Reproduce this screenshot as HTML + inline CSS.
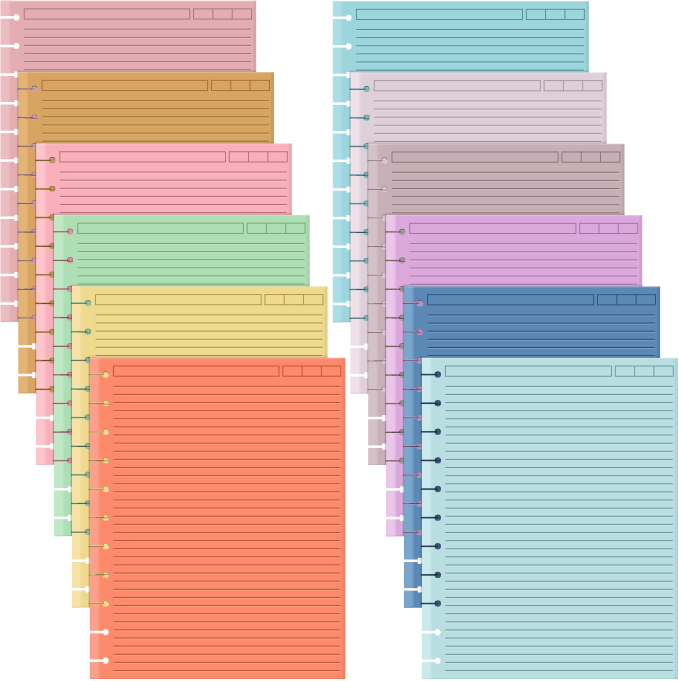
<!DOCTYPE html>
<html><head><meta charset="utf-8"><title>Notebook paper</title>
<style>
html,body{margin:0;padding:0;background:#fff;width:679px;height:681px;overflow:hidden;font-family:"Liberation Sans",sans-serif;}
svg{display:block;}
</style></head><body>
<svg width="679" height="681" viewBox="0 0 679 681">
<defs><linearGradient id="shT" x1="0" y1="0" x2="0" y2="1"><stop offset="0" stop-color="#000" stop-opacity="0"/><stop offset="1" stop-color="#000" stop-opacity="0.16"/></linearGradient><linearGradient id="shL" x1="0" y1="0" x2="1" y2="0"><stop offset="0" stop-color="#000" stop-opacity="0"/><stop offset="1" stop-color="#000" stop-opacity="0.3"/></linearGradient>
<mask id="m0" maskUnits="userSpaceOnUse" x="-1.3" y="-1.3" width="259.5" height="325.2"><rect x="-1.3" y="-1.3" width="259.5" height="325.2" fill="#fff"/><rect x="-0.3" y="16.15" width="16.9" height="2.5" fill="#000"/><path d="M14.4 14.3L16.3 14.3A3.1 3.1 0 0 1 16.3 20.5L14.4 20.5Z" fill="#000"/><rect x="-0.3" y="44.77" width="16.9" height="2.5" fill="#000"/><path d="M14.4 42.92L16.3 42.92A3.1 3.1 0 0 1 16.3 49.12L14.4 49.12Z" fill="#000"/><rect x="-0.3" y="73.39" width="16.9" height="2.5" fill="#000"/><path d="M14.4 71.54L16.3 71.54A3.1 3.1 0 0 1 16.3 77.74L14.4 77.74Z" fill="#000"/><rect x="-0.3" y="102.01" width="16.9" height="2.5" fill="#000"/><path d="M14.4 100.16L16.3 100.16A3.1 3.1 0 0 1 16.3 106.36L14.4 106.36Z" fill="#000"/><rect x="-0.3" y="130.63" width="16.9" height="2.5" fill="#000"/><path d="M14.4 128.78L16.3 128.78A3.1 3.1 0 0 1 16.3 134.98L14.4 134.98Z" fill="#000"/><rect x="-0.3" y="159.25" width="16.9" height="2.5" fill="#000"/><path d="M14.4 157.4L16.3 157.4A3.1 3.1 0 0 1 16.3 163.6L14.4 163.6Z" fill="#000"/><rect x="-0.3" y="187.87" width="16.9" height="2.5" fill="#000"/><path d="M14.4 186.02L16.3 186.02A3.1 3.1 0 0 1 16.3 192.22L14.4 192.22Z" fill="#000"/><rect x="-0.3" y="216.49" width="16.9" height="2.5" fill="#000"/><path d="M14.4 214.64L16.3 214.64A3.1 3.1 0 0 1 16.3 220.84L14.4 220.84Z" fill="#000"/><rect x="-0.3" y="245.11" width="16.9" height="2.5" fill="#000"/><path d="M14.4 243.26L16.3 243.26A3.1 3.1 0 0 1 16.3 249.46L14.4 249.46Z" fill="#000"/><rect x="-0.3" y="273.73" width="16.9" height="2.5" fill="#000"/><path d="M14.4 271.88L16.3 271.88A3.1 3.1 0 0 1 16.3 278.08L14.4 278.08Z" fill="#000"/><rect x="-0.3" y="302.35" width="16.9" height="2.5" fill="#000"/><path d="M14.4 300.5L16.3 300.5A3.1 3.1 0 0 1 16.3 306.7L14.4 306.7Z" fill="#000"/></mask>
<mask id="m1" maskUnits="userSpaceOnUse" x="16.54" y="70.12" width="259.5" height="325.2"><rect x="16.54" y="70.12" width="259.5" height="325.2" fill="#fff"/><rect x="17.54" y="87.97" width="16.9" height="1.7" fill="#000"/><circle cx="34.44" cy="88.82" r="3.2" fill="#000"/><rect x="17.54" y="116.59" width="16.9" height="1.7" fill="#000"/><circle cx="34.44" cy="117.44" r="3.2" fill="#000"/><rect x="17.54" y="145.21" width="16.9" height="1.7" fill="#000"/><circle cx="34.44" cy="146.06" r="3.2" fill="#000"/><rect x="17.54" y="173.83" width="16.9" height="1.7" fill="#000"/><circle cx="34.44" cy="174.68" r="3.2" fill="#000"/><rect x="17.54" y="202.45" width="16.9" height="1.7" fill="#000"/><circle cx="34.44" cy="203.3" r="3.2" fill="#000"/><rect x="17.54" y="231.07" width="16.9" height="1.7" fill="#000"/><circle cx="34.44" cy="231.92" r="3.2" fill="#000"/><rect x="17.54" y="259.69" width="16.9" height="1.7" fill="#000"/><circle cx="34.44" cy="260.54" r="3.2" fill="#000"/><rect x="17.54" y="288.31" width="16.9" height="1.7" fill="#000"/><circle cx="34.44" cy="289.16" r="3.2" fill="#000"/><rect x="17.54" y="316.93" width="16.9" height="1.7" fill="#000"/><circle cx="34.44" cy="317.78" r="3.2" fill="#000"/><rect x="17.54" y="345.15" width="16.9" height="2.5" fill="#000"/><path d="M32.24 343.3L34.14 343.3A3.1 3.1 0 0 1 34.14 349.5L32.24 349.5Z" fill="#000"/><rect x="17.54" y="373.77" width="16.9" height="2.5" fill="#000"/><path d="M32.24 371.92L34.14 371.92A3.1 3.1 0 0 1 34.14 378.12L32.24 378.12Z" fill="#000"/></mask>
<clipPath id="c1"><rect x="0.7" y="0.7" width="255.5" height="321.2"/></clipPath>
<mask id="m2" maskUnits="userSpaceOnUse" x="34.38" y="141.54" width="259.5" height="325.2"><rect x="34.38" y="141.54" width="259.5" height="325.2" fill="#fff"/><rect x="35.38" y="159.39" width="16.9" height="1.7" fill="#000"/><circle cx="52.28" cy="160.24" r="3.2" fill="#000"/><rect x="35.38" y="188.01" width="16.9" height="1.7" fill="#000"/><circle cx="52.28" cy="188.86" r="3.2" fill="#000"/><rect x="35.38" y="216.63" width="16.9" height="1.7" fill="#000"/><circle cx="52.28" cy="217.48" r="3.2" fill="#000"/><rect x="35.38" y="245.25" width="16.9" height="1.7" fill="#000"/><circle cx="52.28" cy="246.1" r="3.2" fill="#000"/><rect x="35.38" y="273.87" width="16.9" height="1.7" fill="#000"/><circle cx="52.28" cy="274.72" r="3.2" fill="#000"/><rect x="35.38" y="302.49" width="16.9" height="1.7" fill="#000"/><circle cx="52.28" cy="303.34" r="3.2" fill="#000"/><rect x="35.38" y="331.11" width="16.9" height="1.7" fill="#000"/><circle cx="52.28" cy="331.96" r="3.2" fill="#000"/><rect x="35.38" y="359.73" width="16.9" height="1.7" fill="#000"/><circle cx="52.28" cy="360.58" r="3.2" fill="#000"/><rect x="35.38" y="388.35" width="16.9" height="1.7" fill="#000"/><circle cx="52.28" cy="389.2" r="3.2" fill="#000"/><rect x="35.38" y="416.57" width="16.9" height="2.5" fill="#000"/><path d="M50.08 414.72L51.98 414.72A3.1 3.1 0 0 1 51.98 420.92L50.08 420.92Z" fill="#000"/><rect x="35.38" y="445.19" width="16.9" height="2.5" fill="#000"/><path d="M50.08 443.34L51.98 443.34A3.1 3.1 0 0 1 51.98 449.54L50.08 449.54Z" fill="#000"/></mask>
<clipPath id="c2"><rect x="18.54" y="72.12" width="255.5" height="321.2"/></clipPath>
<mask id="m3" maskUnits="userSpaceOnUse" x="52.22" y="212.96" width="259.5" height="325.2"><rect x="52.22" y="212.96" width="259.5" height="325.2" fill="#fff"/><rect x="53.22" y="230.81" width="16.9" height="1.7" fill="#000"/><circle cx="70.12" cy="231.66" r="3.2" fill="#000"/><rect x="53.22" y="259.43" width="16.9" height="1.7" fill="#000"/><circle cx="70.12" cy="260.28" r="3.2" fill="#000"/><rect x="53.22" y="288.05" width="16.9" height="1.7" fill="#000"/><circle cx="70.12" cy="288.9" r="3.2" fill="#000"/><rect x="53.22" y="316.67" width="16.9" height="1.7" fill="#000"/><circle cx="70.12" cy="317.52" r="3.2" fill="#000"/><rect x="53.22" y="345.29" width="16.9" height="1.7" fill="#000"/><circle cx="70.12" cy="346.14" r="3.2" fill="#000"/><rect x="53.22" y="373.91" width="16.9" height="1.7" fill="#000"/><circle cx="70.12" cy="374.76" r="3.2" fill="#000"/><rect x="53.22" y="402.53" width="16.9" height="1.7" fill="#000"/><circle cx="70.12" cy="403.38" r="3.2" fill="#000"/><rect x="53.22" y="431.15" width="16.9" height="1.7" fill="#000"/><circle cx="70.12" cy="432" r="3.2" fill="#000"/><rect x="53.22" y="459.77" width="16.9" height="1.7" fill="#000"/><circle cx="70.12" cy="460.62" r="3.2" fill="#000"/><rect x="53.22" y="487.99" width="16.9" height="2.5" fill="#000"/><path d="M67.92 486.14L69.82 486.14A3.1 3.1 0 0 1 69.82 492.34L67.92 492.34Z" fill="#000"/><rect x="53.22" y="516.61" width="16.9" height="2.5" fill="#000"/><path d="M67.92 514.76L69.82 514.76A3.1 3.1 0 0 1 69.82 520.96L67.92 520.96Z" fill="#000"/></mask>
<clipPath id="c3"><rect x="36.38" y="143.54" width="255.5" height="321.2"/></clipPath>
<mask id="m4" maskUnits="userSpaceOnUse" x="70.06" y="284.38" width="259.5" height="325.2"><rect x="70.06" y="284.38" width="259.5" height="325.2" fill="#fff"/><rect x="71.06" y="302.23" width="16.9" height="1.7" fill="#000"/><circle cx="87.96" cy="303.08" r="3.2" fill="#000"/><rect x="71.06" y="330.85" width="16.9" height="1.7" fill="#000"/><circle cx="87.96" cy="331.7" r="3.2" fill="#000"/><rect x="71.06" y="359.47" width="16.9" height="1.7" fill="#000"/><circle cx="87.96" cy="360.32" r="3.2" fill="#000"/><rect x="71.06" y="388.09" width="16.9" height="1.7" fill="#000"/><circle cx="87.96" cy="388.94" r="3.2" fill="#000"/><rect x="71.06" y="416.71" width="16.9" height="1.7" fill="#000"/><circle cx="87.96" cy="417.56" r="3.2" fill="#000"/><rect x="71.06" y="445.33" width="16.9" height="1.7" fill="#000"/><circle cx="87.96" cy="446.18" r="3.2" fill="#000"/><rect x="71.06" y="473.95" width="16.9" height="1.7" fill="#000"/><circle cx="87.96" cy="474.8" r="3.2" fill="#000"/><rect x="71.06" y="502.57" width="16.9" height="1.7" fill="#000"/><circle cx="87.96" cy="503.42" r="3.2" fill="#000"/><rect x="71.06" y="531.19" width="16.9" height="1.7" fill="#000"/><circle cx="87.96" cy="532.04" r="3.2" fill="#000"/><rect x="71.06" y="559.41" width="16.9" height="2.5" fill="#000"/><path d="M85.76 557.56L87.66 557.56A3.1 3.1 0 0 1 87.66 563.76L85.76 563.76Z" fill="#000"/><rect x="71.06" y="588.03" width="16.9" height="2.5" fill="#000"/><path d="M85.76 586.18L87.66 586.18A3.1 3.1 0 0 1 87.66 592.38L85.76 592.38Z" fill="#000"/></mask>
<clipPath id="c4"><rect x="54.22" y="214.96" width="255.5" height="321.2"/></clipPath>
<mask id="m5" maskUnits="userSpaceOnUse" x="87.9" y="355.8" width="259.5" height="325.2"><rect x="87.9" y="355.8" width="259.5" height="325.2" fill="#fff"/><rect x="88.9" y="373.65" width="16.9" height="1.7" fill="#000"/><circle cx="105.8" cy="374.5" r="3.2" fill="#000"/><rect x="88.9" y="402.27" width="16.9" height="1.7" fill="#000"/><circle cx="105.8" cy="403.12" r="3.2" fill="#000"/><rect x="88.9" y="430.89" width="16.9" height="1.7" fill="#000"/><circle cx="105.8" cy="431.74" r="3.2" fill="#000"/><rect x="88.9" y="459.51" width="16.9" height="1.7" fill="#000"/><circle cx="105.8" cy="460.36" r="3.2" fill="#000"/><rect x="88.9" y="488.13" width="16.9" height="1.7" fill="#000"/><circle cx="105.8" cy="488.98" r="3.2" fill="#000"/><rect x="88.9" y="516.75" width="16.9" height="1.7" fill="#000"/><circle cx="105.8" cy="517.6" r="3.2" fill="#000"/><rect x="88.9" y="545.37" width="16.9" height="1.7" fill="#000"/><circle cx="105.8" cy="546.22" r="3.2" fill="#000"/><rect x="88.9" y="573.99" width="16.9" height="1.7" fill="#000"/><circle cx="105.8" cy="574.84" r="3.2" fill="#000"/><rect x="88.9" y="602.61" width="16.9" height="1.7" fill="#000"/><circle cx="105.8" cy="603.46" r="3.2" fill="#000"/><rect x="88.9" y="630.83" width="16.9" height="2.5" fill="#000"/><path d="M103.6 628.98L105.5 628.98A3.1 3.1 0 0 1 105.5 635.18L103.6 635.18Z" fill="#000"/><rect x="88.9" y="659.45" width="16.9" height="2.5" fill="#000"/><path d="M103.6 657.6L105.5 657.6A3.1 3.1 0 0 1 105.5 663.8L103.6 663.8Z" fill="#000"/></mask>
<clipPath id="c5"><rect x="72.06" y="286.38" width="255.5" height="321.2"/></clipPath>
<mask id="m6" maskUnits="userSpaceOnUse" x="330.9" y="-0.94" width="260" height="325.2"><rect x="330.9" y="-0.94" width="260" height="325.2" fill="#fff"/><rect x="331.9" y="16.51" width="16.9" height="2.5" fill="#000"/><path d="M346.6 14.66L348.5 14.66A3.1 3.1 0 0 1 348.5 20.86L346.6 20.86Z" fill="#000"/><rect x="331.9" y="45.13" width="16.9" height="2.5" fill="#000"/><path d="M346.6 43.28L348.5 43.28A3.1 3.1 0 0 1 348.5 49.48L346.6 49.48Z" fill="#000"/><rect x="331.9" y="73.75" width="16.9" height="2.5" fill="#000"/><path d="M346.6 71.9L348.5 71.9A3.1 3.1 0 0 1 348.5 78.1L346.6 78.1Z" fill="#000"/><rect x="331.9" y="102.37" width="16.9" height="2.5" fill="#000"/><path d="M346.6 100.52L348.5 100.52A3.1 3.1 0 0 1 348.5 106.72L346.6 106.72Z" fill="#000"/><rect x="331.9" y="130.99" width="16.9" height="2.5" fill="#000"/><path d="M346.6 129.14L348.5 129.14A3.1 3.1 0 0 1 348.5 135.34L346.6 135.34Z" fill="#000"/><rect x="331.9" y="159.61" width="16.9" height="2.5" fill="#000"/><path d="M346.6 157.76L348.5 157.76A3.1 3.1 0 0 1 348.5 163.96L346.6 163.96Z" fill="#000"/><rect x="331.9" y="188.23" width="16.9" height="2.5" fill="#000"/><path d="M346.6 186.38L348.5 186.38A3.1 3.1 0 0 1 348.5 192.58L346.6 192.58Z" fill="#000"/><rect x="331.9" y="216.85" width="16.9" height="2.5" fill="#000"/><path d="M346.6 215L348.5 215A3.1 3.1 0 0 1 348.5 221.2L346.6 221.2Z" fill="#000"/><rect x="331.9" y="245.47" width="16.9" height="2.5" fill="#000"/><path d="M346.6 243.62L348.5 243.62A3.1 3.1 0 0 1 348.5 249.82L346.6 249.82Z" fill="#000"/><rect x="331.9" y="274.09" width="16.9" height="2.5" fill="#000"/><path d="M346.6 272.24L348.5 272.24A3.1 3.1 0 0 1 348.5 278.44L346.6 278.44Z" fill="#000"/><rect x="331.9" y="302.71" width="16.9" height="2.5" fill="#000"/><path d="M346.6 300.86L348.5 300.86A3.1 3.1 0 0 1 348.5 307.06L346.6 307.06Z" fill="#000"/></mask>
<mask id="m7" maskUnits="userSpaceOnUse" x="348.7" y="70.42" width="260" height="325.2"><rect x="348.7" y="70.42" width="260" height="325.2" fill="#fff"/><rect x="349.7" y="88.27" width="16.9" height="1.7" fill="#000"/><circle cx="366.6" cy="89.12" r="3.2" fill="#000"/><rect x="349.7" y="116.89" width="16.9" height="1.7" fill="#000"/><circle cx="366.6" cy="117.74" r="3.2" fill="#000"/><rect x="349.7" y="145.51" width="16.9" height="1.7" fill="#000"/><circle cx="366.6" cy="146.36" r="3.2" fill="#000"/><rect x="349.7" y="174.13" width="16.9" height="1.7" fill="#000"/><circle cx="366.6" cy="174.98" r="3.2" fill="#000"/><rect x="349.7" y="202.75" width="16.9" height="1.7" fill="#000"/><circle cx="366.6" cy="203.6" r="3.2" fill="#000"/><rect x="349.7" y="231.37" width="16.9" height="1.7" fill="#000"/><circle cx="366.6" cy="232.22" r="3.2" fill="#000"/><rect x="349.7" y="259.99" width="16.9" height="1.7" fill="#000"/><circle cx="366.6" cy="260.84" r="3.2" fill="#000"/><rect x="349.7" y="288.61" width="16.9" height="1.7" fill="#000"/><circle cx="366.6" cy="289.46" r="3.2" fill="#000"/><rect x="349.7" y="317.23" width="16.9" height="1.7" fill="#000"/><circle cx="366.6" cy="318.08" r="3.2" fill="#000"/><rect x="349.7" y="345.45" width="16.9" height="2.5" fill="#000"/><path d="M364.4 343.6L366.3 343.6A3.1 3.1 0 0 1 366.3 349.8L364.4 349.8Z" fill="#000"/><rect x="349.7" y="374.07" width="16.9" height="2.5" fill="#000"/><path d="M364.4 372.22L366.3 372.22A3.1 3.1 0 0 1 366.3 378.42L364.4 378.42Z" fill="#000"/></mask>
<clipPath id="c7"><rect x="332.9" y="1.06" width="256" height="321.2"/></clipPath>
<mask id="m8" maskUnits="userSpaceOnUse" x="366.5" y="141.78" width="260" height="325.2"><rect x="366.5" y="141.78" width="260" height="325.2" fill="#fff"/><rect x="367.5" y="159.63" width="16.9" height="1.7" fill="#000"/><circle cx="384.4" cy="160.48" r="3.2" fill="#000"/><rect x="367.5" y="188.25" width="16.9" height="1.7" fill="#000"/><circle cx="384.4" cy="189.1" r="3.2" fill="#000"/><rect x="367.5" y="216.87" width="16.9" height="1.7" fill="#000"/><circle cx="384.4" cy="217.72" r="3.2" fill="#000"/><rect x="367.5" y="245.49" width="16.9" height="1.7" fill="#000"/><circle cx="384.4" cy="246.34" r="3.2" fill="#000"/><rect x="367.5" y="274.11" width="16.9" height="1.7" fill="#000"/><circle cx="384.4" cy="274.96" r="3.2" fill="#000"/><rect x="367.5" y="302.73" width="16.9" height="1.7" fill="#000"/><circle cx="384.4" cy="303.58" r="3.2" fill="#000"/><rect x="367.5" y="331.35" width="16.9" height="1.7" fill="#000"/><circle cx="384.4" cy="332.2" r="3.2" fill="#000"/><rect x="367.5" y="359.97" width="16.9" height="1.7" fill="#000"/><circle cx="384.4" cy="360.82" r="3.2" fill="#000"/><rect x="367.5" y="388.59" width="16.9" height="1.7" fill="#000"/><circle cx="384.4" cy="389.44" r="3.2" fill="#000"/><rect x="367.5" y="416.81" width="16.9" height="2.5" fill="#000"/><path d="M382.2 414.96L384.1 414.96A3.1 3.1 0 0 1 384.1 421.16L382.2 421.16Z" fill="#000"/><rect x="367.5" y="445.43" width="16.9" height="2.5" fill="#000"/><path d="M382.2 443.58L384.1 443.58A3.1 3.1 0 0 1 384.1 449.78L382.2 449.78Z" fill="#000"/></mask>
<clipPath id="c8"><rect x="350.7" y="72.42" width="256" height="321.2"/></clipPath>
<mask id="m9" maskUnits="userSpaceOnUse" x="384.3" y="213.14" width="260" height="325.2"><rect x="384.3" y="213.14" width="260" height="325.2" fill="#fff"/><rect x="385.3" y="230.99" width="16.9" height="1.7" fill="#000"/><circle cx="402.2" cy="231.84" r="3.2" fill="#000"/><rect x="385.3" y="259.61" width="16.9" height="1.7" fill="#000"/><circle cx="402.2" cy="260.46" r="3.2" fill="#000"/><rect x="385.3" y="288.23" width="16.9" height="1.7" fill="#000"/><circle cx="402.2" cy="289.08" r="3.2" fill="#000"/><rect x="385.3" y="316.85" width="16.9" height="1.7" fill="#000"/><circle cx="402.2" cy="317.7" r="3.2" fill="#000"/><rect x="385.3" y="345.47" width="16.9" height="1.7" fill="#000"/><circle cx="402.2" cy="346.32" r="3.2" fill="#000"/><rect x="385.3" y="374.09" width="16.9" height="1.7" fill="#000"/><circle cx="402.2" cy="374.94" r="3.2" fill="#000"/><rect x="385.3" y="402.71" width="16.9" height="1.7" fill="#000"/><circle cx="402.2" cy="403.56" r="3.2" fill="#000"/><rect x="385.3" y="431.33" width="16.9" height="1.7" fill="#000"/><circle cx="402.2" cy="432.18" r="3.2" fill="#000"/><rect x="385.3" y="459.95" width="16.9" height="1.7" fill="#000"/><circle cx="402.2" cy="460.8" r="3.2" fill="#000"/><rect x="385.3" y="488.17" width="16.9" height="2.5" fill="#000"/><path d="M400 486.32L401.9 486.32A3.1 3.1 0 0 1 401.9 492.52L400 492.52Z" fill="#000"/><rect x="385.3" y="516.79" width="16.9" height="2.5" fill="#000"/><path d="M400 514.94L401.9 514.94A3.1 3.1 0 0 1 401.9 521.14L400 521.14Z" fill="#000"/></mask>
<clipPath id="c9"><rect x="368.5" y="143.78" width="256" height="321.2"/></clipPath>
<mask id="m10" maskUnits="userSpaceOnUse" x="402.1" y="284.5" width="260" height="325.2"><rect x="402.1" y="284.5" width="260" height="325.2" fill="#fff"/><rect x="403.1" y="302.35" width="16.9" height="1.7" fill="#000"/><circle cx="420" cy="303.2" r="3.2" fill="#000"/><rect x="403.1" y="330.97" width="16.9" height="1.7" fill="#000"/><circle cx="420" cy="331.82" r="3.2" fill="#000"/><rect x="403.1" y="359.59" width="16.9" height="1.7" fill="#000"/><circle cx="420" cy="360.44" r="3.2" fill="#000"/><rect x="403.1" y="388.21" width="16.9" height="1.7" fill="#000"/><circle cx="420" cy="389.06" r="3.2" fill="#000"/><rect x="403.1" y="416.83" width="16.9" height="1.7" fill="#000"/><circle cx="420" cy="417.68" r="3.2" fill="#000"/><rect x="403.1" y="445.45" width="16.9" height="1.7" fill="#000"/><circle cx="420" cy="446.3" r="3.2" fill="#000"/><rect x="403.1" y="474.07" width="16.9" height="1.7" fill="#000"/><circle cx="420" cy="474.92" r="3.2" fill="#000"/><rect x="403.1" y="502.69" width="16.9" height="1.7" fill="#000"/><circle cx="420" cy="503.54" r="3.2" fill="#000"/><rect x="403.1" y="531.31" width="16.9" height="1.7" fill="#000"/><circle cx="420" cy="532.16" r="3.2" fill="#000"/><rect x="403.1" y="559.53" width="16.9" height="2.5" fill="#000"/><path d="M417.8 557.68L419.7 557.68A3.1 3.1 0 0 1 419.7 563.88L417.8 563.88Z" fill="#000"/><rect x="403.1" y="588.15" width="16.9" height="2.5" fill="#000"/><path d="M417.8 586.3L419.7 586.3A3.1 3.1 0 0 1 419.7 592.5L417.8 592.5Z" fill="#000"/></mask>
<clipPath id="c10"><rect x="386.3" y="215.14" width="256" height="321.2"/></clipPath>
<mask id="m11" maskUnits="userSpaceOnUse" x="419.9" y="355.86" width="260" height="325.2"><rect x="419.9" y="355.86" width="260" height="325.2" fill="#fff"/><rect x="420.9" y="373.71" width="16.9" height="1.7" fill="#000"/><circle cx="437.8" cy="374.56" r="3.2" fill="#000"/><rect x="420.9" y="402.33" width="16.9" height="1.7" fill="#000"/><circle cx="437.8" cy="403.18" r="3.2" fill="#000"/><rect x="420.9" y="430.95" width="16.9" height="1.7" fill="#000"/><circle cx="437.8" cy="431.8" r="3.2" fill="#000"/><rect x="420.9" y="459.57" width="16.9" height="1.7" fill="#000"/><circle cx="437.8" cy="460.42" r="3.2" fill="#000"/><rect x="420.9" y="488.19" width="16.9" height="1.7" fill="#000"/><circle cx="437.8" cy="489.04" r="3.2" fill="#000"/><rect x="420.9" y="516.81" width="16.9" height="1.7" fill="#000"/><circle cx="437.8" cy="517.66" r="3.2" fill="#000"/><rect x="420.9" y="545.43" width="16.9" height="1.7" fill="#000"/><circle cx="437.8" cy="546.28" r="3.2" fill="#000"/><rect x="420.9" y="574.05" width="16.9" height="1.7" fill="#000"/><circle cx="437.8" cy="574.9" r="3.2" fill="#000"/><rect x="420.9" y="602.67" width="16.9" height="1.7" fill="#000"/><circle cx="437.8" cy="603.52" r="3.2" fill="#000"/><rect x="420.9" y="630.89" width="16.9" height="2.5" fill="#000"/><path d="M435.6 629.04L437.5 629.04A3.1 3.1 0 0 1 437.5 635.24L435.6 635.24Z" fill="#000"/><rect x="420.9" y="659.51" width="16.9" height="2.5" fill="#000"/><path d="M435.6 657.66L437.5 657.66A3.1 3.1 0 0 1 437.5 663.86L435.6 663.86Z" fill="#000"/></mask>
<clipPath id="c11"><rect x="404.1" y="286.5" width="256" height="321.2"/></clipPath></defs>
<g mask="url(#m0)"><rect x="0.7" y="0.7" width="255.5" height="321.2" fill="#E4ADB2"/><rect x="0.7" y="0.7" width="8.4" height="321.2" fill="#EBBCC0"/><rect x="9.1" y="0.7" width="1.6" height="321.2" fill="#EBBCC0" opacity="0.5"/><rect x="0.7" y="0.7" width="255.5" height="1" fill="#fff" opacity="0.22"/><rect x="253.2" y="0.7" width="3" height="321.2" fill="#000" opacity="0.05"/><rect x="0.7" y="320.9" width="255.5" height="1" fill="#000" opacity="0.06"/><rect x="24.2" y="8.9" width="165.6" height="10.2" fill="none" stroke="#A6717A" stroke-width="0.9"/><rect x="193.6" y="8.9" width="58" height="10.2" fill="none" stroke="#A6717A" stroke-width="0.9"/><rect x="212.45" y="8.9" width="0.9" height="10.2" fill="#A6717A"/><rect x="231.75" y="8.9" width="0.9" height="10.2" fill="#A6717A"/><rect x="24.2" y="28.7" width="226.9" height="1" fill="#A6717A"/><rect x="24.2" y="29.7" width="226.9" height="1" fill="#fff" opacity="0.18"/><rect x="24.2" y="36.82" width="226.9" height="1" fill="#A6717A"/><rect x="24.2" y="37.82" width="226.9" height="1" fill="#fff" opacity="0.18"/><rect x="24.2" y="44.94" width="226.9" height="1" fill="#A6717A"/><rect x="24.2" y="45.94" width="226.9" height="1" fill="#fff" opacity="0.18"/><rect x="24.2" y="53.06" width="226.9" height="1" fill="#A6717A"/><rect x="24.2" y="54.06" width="226.9" height="1" fill="#fff" opacity="0.18"/><rect x="24.2" y="61.18" width="226.9" height="1" fill="#A6717A"/><rect x="24.2" y="62.18" width="226.9" height="1" fill="#fff" opacity="0.18"/><rect x="24.2" y="69.3" width="226.9" height="1" fill="#A6717A"/><rect x="24.2" y="70.3" width="226.9" height="1" fill="#fff" opacity="0.18"/><rect x="24.2" y="77.42" width="226.9" height="1" fill="#A6717A"/><rect x="24.2" y="78.42" width="226.9" height="1" fill="#fff" opacity="0.18"/><rect x="24.2" y="85.54" width="226.9" height="1" fill="#A6717A"/><rect x="24.2" y="86.54" width="226.9" height="1" fill="#fff" opacity="0.18"/><rect x="24.2" y="93.66" width="226.9" height="1" fill="#A6717A"/><rect x="24.2" y="94.66" width="226.9" height="1" fill="#fff" opacity="0.18"/><rect x="24.2" y="101.78" width="226.9" height="1" fill="#A6717A"/><rect x="24.2" y="102.78" width="226.9" height="1" fill="#fff" opacity="0.18"/><rect x="24.2" y="109.9" width="226.9" height="1" fill="#A6717A"/><rect x="24.2" y="110.9" width="226.9" height="1" fill="#fff" opacity="0.18"/><rect x="24.2" y="118.02" width="226.9" height="1" fill="#A6717A"/><rect x="24.2" y="119.02" width="226.9" height="1" fill="#fff" opacity="0.18"/><rect x="24.2" y="126.14" width="226.9" height="1" fill="#A6717A"/><rect x="24.2" y="127.14" width="226.9" height="1" fill="#fff" opacity="0.18"/><rect x="24.2" y="134.26" width="226.9" height="1" fill="#A6717A"/><rect x="24.2" y="135.26" width="226.9" height="1" fill="#fff" opacity="0.18"/><rect x="24.2" y="142.38" width="226.9" height="1" fill="#A6717A"/><rect x="24.2" y="143.38" width="226.9" height="1" fill="#fff" opacity="0.18"/><rect x="24.2" y="150.5" width="226.9" height="1" fill="#A6717A"/><rect x="24.2" y="151.5" width="226.9" height="1" fill="#fff" opacity="0.18"/><rect x="24.2" y="158.62" width="226.9" height="1" fill="#A6717A"/><rect x="24.2" y="159.62" width="226.9" height="1" fill="#fff" opacity="0.18"/><rect x="24.2" y="166.74" width="226.9" height="1" fill="#A6717A"/><rect x="24.2" y="167.74" width="226.9" height="1" fill="#fff" opacity="0.18"/><rect x="24.2" y="174.86" width="226.9" height="1" fill="#A6717A"/><rect x="24.2" y="175.86" width="226.9" height="1" fill="#fff" opacity="0.18"/><rect x="24.2" y="182.98" width="226.9" height="1" fill="#A6717A"/><rect x="24.2" y="183.98" width="226.9" height="1" fill="#fff" opacity="0.18"/><rect x="24.2" y="191.1" width="226.9" height="1" fill="#A6717A"/><rect x="24.2" y="192.1" width="226.9" height="1" fill="#fff" opacity="0.18"/><rect x="24.2" y="199.22" width="226.9" height="1" fill="#A6717A"/><rect x="24.2" y="200.22" width="226.9" height="1" fill="#fff" opacity="0.18"/><rect x="24.2" y="207.34" width="226.9" height="1" fill="#A6717A"/><rect x="24.2" y="208.34" width="226.9" height="1" fill="#fff" opacity="0.18"/><rect x="24.2" y="215.46" width="226.9" height="1" fill="#A6717A"/><rect x="24.2" y="216.46" width="226.9" height="1" fill="#fff" opacity="0.18"/><rect x="24.2" y="223.58" width="226.9" height="1" fill="#A6717A"/><rect x="24.2" y="224.58" width="226.9" height="1" fill="#fff" opacity="0.18"/><rect x="24.2" y="231.7" width="226.9" height="1" fill="#A6717A"/><rect x="24.2" y="232.7" width="226.9" height="1" fill="#fff" opacity="0.18"/><rect x="24.2" y="239.82" width="226.9" height="1" fill="#A6717A"/><rect x="24.2" y="240.82" width="226.9" height="1" fill="#fff" opacity="0.18"/><rect x="24.2" y="247.94" width="226.9" height="1" fill="#A6717A"/><rect x="24.2" y="248.94" width="226.9" height="1" fill="#fff" opacity="0.18"/><rect x="24.2" y="256.06" width="226.9" height="1" fill="#A6717A"/><rect x="24.2" y="257.06" width="226.9" height="1" fill="#fff" opacity="0.18"/><rect x="24.2" y="264.18" width="226.9" height="1" fill="#A6717A"/><rect x="24.2" y="265.18" width="226.9" height="1" fill="#fff" opacity="0.18"/><rect x="24.2" y="272.3" width="226.9" height="1" fill="#A6717A"/><rect x="24.2" y="273.3" width="226.9" height="1" fill="#fff" opacity="0.18"/><rect x="24.2" y="280.42" width="226.9" height="1" fill="#A6717A"/><rect x="24.2" y="281.42" width="226.9" height="1" fill="#fff" opacity="0.18"/><rect x="24.2" y="288.54" width="226.9" height="1" fill="#A6717A"/><rect x="24.2" y="289.54" width="226.9" height="1" fill="#fff" opacity="0.18"/><rect x="24.2" y="296.66" width="226.9" height="1" fill="#A6717A"/><rect x="24.2" y="297.66" width="226.9" height="1" fill="#fff" opacity="0.18"/><rect x="24.2" y="304.78" width="226.9" height="1" fill="#A6717A"/><rect x="24.2" y="305.78" width="226.9" height="1" fill="#fff" opacity="0.18"/><rect x="24.2" y="312.9" width="226.9" height="1" fill="#A6717A"/><rect x="24.2" y="313.9" width="226.9" height="1" fill="#fff" opacity="0.18"/></g>
<g clip-path="url(#c1)">
<rect x="17.04" y="69.12" width="255.5" height="3" fill="url(#shT)"/>
<rect x="16.54" y="72.12" width="2" height="321.2" fill="url(#shL)"/>
<rect x="17.54" y="87.97" width="16.9" height="1.7" fill="rgba(20,25,40,0.1)"/><circle cx="34.44" cy="88.82" r="3.2" fill="rgba(20,25,40,0.1)"/><rect x="17.54" y="116.59" width="16.9" height="1.7" fill="rgba(20,25,40,0.1)"/><circle cx="34.44" cy="117.44" r="3.2" fill="rgba(20,25,40,0.1)"/><rect x="17.54" y="145.21" width="16.9" height="1.7" fill="rgba(20,25,40,0.1)"/><circle cx="34.44" cy="146.06" r="3.2" fill="rgba(20,25,40,0.1)"/><rect x="17.54" y="173.83" width="16.9" height="1.7" fill="rgba(20,25,40,0.1)"/><circle cx="34.44" cy="174.68" r="3.2" fill="rgba(20,25,40,0.1)"/><rect x="17.54" y="202.45" width="16.9" height="1.7" fill="rgba(20,25,40,0.1)"/><circle cx="34.44" cy="203.3" r="3.2" fill="rgba(20,25,40,0.1)"/><rect x="17.54" y="231.07" width="16.9" height="1.7" fill="rgba(20,25,40,0.1)"/><circle cx="34.44" cy="231.92" r="3.2" fill="rgba(20,25,40,0.1)"/><rect x="17.54" y="259.69" width="16.9" height="1.7" fill="rgba(20,25,40,0.1)"/><circle cx="34.44" cy="260.54" r="3.2" fill="rgba(20,25,40,0.1)"/><rect x="17.54" y="288.31" width="16.9" height="1.7" fill="rgba(20,25,40,0.1)"/><circle cx="34.44" cy="289.16" r="3.2" fill="rgba(20,25,40,0.1)"/><rect x="17.54" y="316.93" width="16.9" height="1.7" fill="rgba(20,25,40,0.1)"/><circle cx="34.44" cy="317.78" r="3.2" fill="rgba(20,25,40,0.1)"/>
<rect x="17.54" y="88.62" width="14.9" height="0.9" fill="rgba(30,15,10,0.45)"/>
<path d="M31.74 88.42 a2.7 2.7 0 0 1 5.4 0" fill="none" stroke="rgba(30,15,10,0.35)" stroke-width="0.9"/>
<rect x="17.54" y="117.24" width="14.9" height="0.9" fill="rgba(30,15,10,0.45)"/>
<path d="M31.74 117.04 a2.7 2.7 0 0 1 5.4 0" fill="none" stroke="rgba(30,15,10,0.35)" stroke-width="0.9"/>
<rect x="17.54" y="145.86" width="14.9" height="0.9" fill="rgba(30,15,10,0.45)"/>
<path d="M31.74 145.66 a2.7 2.7 0 0 1 5.4 0" fill="none" stroke="rgba(30,15,10,0.35)" stroke-width="0.9"/>
<rect x="17.54" y="174.48" width="14.9" height="0.9" fill="rgba(30,15,10,0.45)"/>
<path d="M31.74 174.28 a2.7 2.7 0 0 1 5.4 0" fill="none" stroke="rgba(30,15,10,0.35)" stroke-width="0.9"/>
<rect x="17.54" y="203.1" width="14.9" height="0.9" fill="rgba(30,15,10,0.45)"/>
<path d="M31.74 202.9 a2.7 2.7 0 0 1 5.4 0" fill="none" stroke="rgba(30,15,10,0.35)" stroke-width="0.9"/>
<rect x="17.54" y="231.72" width="14.9" height="0.9" fill="rgba(30,15,10,0.45)"/>
<path d="M31.74 231.52 a2.7 2.7 0 0 1 5.4 0" fill="none" stroke="rgba(30,15,10,0.35)" stroke-width="0.9"/>
<rect x="17.54" y="260.34" width="14.9" height="0.9" fill="rgba(30,15,10,0.45)"/>
<path d="M31.74 260.14 a2.7 2.7 0 0 1 5.4 0" fill="none" stroke="rgba(30,15,10,0.35)" stroke-width="0.9"/>
<rect x="17.54" y="288.96" width="14.9" height="0.9" fill="rgba(30,15,10,0.45)"/>
<path d="M31.74 288.76 a2.7 2.7 0 0 1 5.4 0" fill="none" stroke="rgba(30,15,10,0.35)" stroke-width="0.9"/>
<rect x="17.54" y="317.58" width="14.9" height="0.9" fill="rgba(30,15,10,0.45)"/>
<path d="M31.74 317.38 a2.7 2.7 0 0 1 5.4 0" fill="none" stroke="rgba(30,15,10,0.35)" stroke-width="0.9"/>
</g>
<g mask="url(#m1)"><rect x="18.54" y="72.12" width="255.5" height="321.2" fill="#D7A461"/><rect x="18.54" y="72.12" width="8.4" height="321.2" fill="#E2B476"/><rect x="26.94" y="72.12" width="1.6" height="321.2" fill="#E2B476" opacity="0.5"/><rect x="18.54" y="72.12" width="255.5" height="1" fill="#fff" opacity="0.22"/><rect x="271.04" y="72.12" width="3" height="321.2" fill="#000" opacity="0.05"/><rect x="18.54" y="392.32" width="255.5" height="1" fill="#000" opacity="0.06"/><rect x="42.04" y="80.32" width="165.6" height="10.2" fill="none" stroke="#9E7038" stroke-width="0.9"/><rect x="211.44" y="80.32" width="58" height="10.2" fill="none" stroke="#9E7038" stroke-width="0.9"/><rect x="230.29" y="80.32" width="0.9" height="10.2" fill="#9E7038"/><rect x="249.59" y="80.32" width="0.9" height="10.2" fill="#9E7038"/><rect x="42.04" y="100.12" width="226.9" height="1" fill="#9E7038"/><rect x="42.04" y="101.12" width="226.9" height="1" fill="#fff" opacity="0.18"/><rect x="42.04" y="108.24" width="226.9" height="1" fill="#9E7038"/><rect x="42.04" y="109.24" width="226.9" height="1" fill="#fff" opacity="0.18"/><rect x="42.04" y="116.36" width="226.9" height="1" fill="#9E7038"/><rect x="42.04" y="117.36" width="226.9" height="1" fill="#fff" opacity="0.18"/><rect x="42.04" y="124.48" width="226.9" height="1" fill="#9E7038"/><rect x="42.04" y="125.48" width="226.9" height="1" fill="#fff" opacity="0.18"/><rect x="42.04" y="132.6" width="226.9" height="1" fill="#9E7038"/><rect x="42.04" y="133.6" width="226.9" height="1" fill="#fff" opacity="0.18"/><rect x="42.04" y="140.72" width="226.9" height="1" fill="#9E7038"/><rect x="42.04" y="141.72" width="226.9" height="1" fill="#fff" opacity="0.18"/><rect x="42.04" y="148.84" width="226.9" height="1" fill="#9E7038"/><rect x="42.04" y="149.84" width="226.9" height="1" fill="#fff" opacity="0.18"/><rect x="42.04" y="156.96" width="226.9" height="1" fill="#9E7038"/><rect x="42.04" y="157.96" width="226.9" height="1" fill="#fff" opacity="0.18"/><rect x="42.04" y="165.08" width="226.9" height="1" fill="#9E7038"/><rect x="42.04" y="166.08" width="226.9" height="1" fill="#fff" opacity="0.18"/><rect x="42.04" y="173.2" width="226.9" height="1" fill="#9E7038"/><rect x="42.04" y="174.2" width="226.9" height="1" fill="#fff" opacity="0.18"/><rect x="42.04" y="181.32" width="226.9" height="1" fill="#9E7038"/><rect x="42.04" y="182.32" width="226.9" height="1" fill="#fff" opacity="0.18"/><rect x="42.04" y="189.44" width="226.9" height="1" fill="#9E7038"/><rect x="42.04" y="190.44" width="226.9" height="1" fill="#fff" opacity="0.18"/><rect x="42.04" y="197.56" width="226.9" height="1" fill="#9E7038"/><rect x="42.04" y="198.56" width="226.9" height="1" fill="#fff" opacity="0.18"/><rect x="42.04" y="205.68" width="226.9" height="1" fill="#9E7038"/><rect x="42.04" y="206.68" width="226.9" height="1" fill="#fff" opacity="0.18"/><rect x="42.04" y="213.8" width="226.9" height="1" fill="#9E7038"/><rect x="42.04" y="214.8" width="226.9" height="1" fill="#fff" opacity="0.18"/><rect x="42.04" y="221.92" width="226.9" height="1" fill="#9E7038"/><rect x="42.04" y="222.92" width="226.9" height="1" fill="#fff" opacity="0.18"/><rect x="42.04" y="230.04" width="226.9" height="1" fill="#9E7038"/><rect x="42.04" y="231.04" width="226.9" height="1" fill="#fff" opacity="0.18"/><rect x="42.04" y="238.16" width="226.9" height="1" fill="#9E7038"/><rect x="42.04" y="239.16" width="226.9" height="1" fill="#fff" opacity="0.18"/><rect x="42.04" y="246.28" width="226.9" height="1" fill="#9E7038"/><rect x="42.04" y="247.28" width="226.9" height="1" fill="#fff" opacity="0.18"/><rect x="42.04" y="254.4" width="226.9" height="1" fill="#9E7038"/><rect x="42.04" y="255.4" width="226.9" height="1" fill="#fff" opacity="0.18"/><rect x="42.04" y="262.52" width="226.9" height="1" fill="#9E7038"/><rect x="42.04" y="263.52" width="226.9" height="1" fill="#fff" opacity="0.18"/><rect x="42.04" y="270.64" width="226.9" height="1" fill="#9E7038"/><rect x="42.04" y="271.64" width="226.9" height="1" fill="#fff" opacity="0.18"/><rect x="42.04" y="278.76" width="226.9" height="1" fill="#9E7038"/><rect x="42.04" y="279.76" width="226.9" height="1" fill="#fff" opacity="0.18"/><rect x="42.04" y="286.88" width="226.9" height="1" fill="#9E7038"/><rect x="42.04" y="287.88" width="226.9" height="1" fill="#fff" opacity="0.18"/><rect x="42.04" y="295" width="226.9" height="1" fill="#9E7038"/><rect x="42.04" y="296" width="226.9" height="1" fill="#fff" opacity="0.18"/><rect x="42.04" y="303.12" width="226.9" height="1" fill="#9E7038"/><rect x="42.04" y="304.12" width="226.9" height="1" fill="#fff" opacity="0.18"/><rect x="42.04" y="311.24" width="226.9" height="1" fill="#9E7038"/><rect x="42.04" y="312.24" width="226.9" height="1" fill="#fff" opacity="0.18"/><rect x="42.04" y="319.36" width="226.9" height="1" fill="#9E7038"/><rect x="42.04" y="320.36" width="226.9" height="1" fill="#fff" opacity="0.18"/><rect x="42.04" y="327.48" width="226.9" height="1" fill="#9E7038"/><rect x="42.04" y="328.48" width="226.9" height="1" fill="#fff" opacity="0.18"/><rect x="42.04" y="335.6" width="226.9" height="1" fill="#9E7038"/><rect x="42.04" y="336.6" width="226.9" height="1" fill="#fff" opacity="0.18"/><rect x="42.04" y="343.72" width="226.9" height="1" fill="#9E7038"/><rect x="42.04" y="344.72" width="226.9" height="1" fill="#fff" opacity="0.18"/><rect x="42.04" y="351.84" width="226.9" height="1" fill="#9E7038"/><rect x="42.04" y="352.84" width="226.9" height="1" fill="#fff" opacity="0.18"/><rect x="42.04" y="359.96" width="226.9" height="1" fill="#9E7038"/><rect x="42.04" y="360.96" width="226.9" height="1" fill="#fff" opacity="0.18"/><rect x="42.04" y="368.08" width="226.9" height="1" fill="#9E7038"/><rect x="42.04" y="369.08" width="226.9" height="1" fill="#fff" opacity="0.18"/><rect x="42.04" y="376.2" width="226.9" height="1" fill="#9E7038"/><rect x="42.04" y="377.2" width="226.9" height="1" fill="#fff" opacity="0.18"/><rect x="42.04" y="384.32" width="226.9" height="1" fill="#9E7038"/><rect x="42.04" y="385.32" width="226.9" height="1" fill="#fff" opacity="0.18"/></g>
<g clip-path="url(#c2)">
<rect x="34.88" y="140.54" width="255.5" height="3" fill="url(#shT)"/>
<rect x="34.38" y="143.54" width="2" height="321.2" fill="url(#shL)"/>
<rect x="35.38" y="159.39" width="16.9" height="1.7" fill="rgba(20,25,40,0.1)"/><circle cx="52.28" cy="160.24" r="3.2" fill="rgba(20,25,40,0.1)"/><rect x="35.38" y="188.01" width="16.9" height="1.7" fill="rgba(20,25,40,0.1)"/><circle cx="52.28" cy="188.86" r="3.2" fill="rgba(20,25,40,0.1)"/><rect x="35.38" y="216.63" width="16.9" height="1.7" fill="rgba(20,25,40,0.1)"/><circle cx="52.28" cy="217.48" r="3.2" fill="rgba(20,25,40,0.1)"/><rect x="35.38" y="245.25" width="16.9" height="1.7" fill="rgba(20,25,40,0.1)"/><circle cx="52.28" cy="246.1" r="3.2" fill="rgba(20,25,40,0.1)"/><rect x="35.38" y="273.87" width="16.9" height="1.7" fill="rgba(20,25,40,0.1)"/><circle cx="52.28" cy="274.72" r="3.2" fill="rgba(20,25,40,0.1)"/><rect x="35.38" y="302.49" width="16.9" height="1.7" fill="rgba(20,25,40,0.1)"/><circle cx="52.28" cy="303.34" r="3.2" fill="rgba(20,25,40,0.1)"/><rect x="35.38" y="331.11" width="16.9" height="1.7" fill="rgba(20,25,40,0.1)"/><circle cx="52.28" cy="331.96" r="3.2" fill="rgba(20,25,40,0.1)"/><rect x="35.38" y="359.73" width="16.9" height="1.7" fill="rgba(20,25,40,0.1)"/><circle cx="52.28" cy="360.58" r="3.2" fill="rgba(20,25,40,0.1)"/><rect x="35.38" y="388.35" width="16.9" height="1.7" fill="rgba(20,25,40,0.1)"/><circle cx="52.28" cy="389.2" r="3.2" fill="rgba(20,25,40,0.1)"/>
<rect x="35.38" y="160.04" width="14.9" height="0.9" fill="rgba(30,15,10,0.45)"/>
<path d="M49.58 159.84 a2.7 2.7 0 0 1 5.4 0" fill="none" stroke="rgba(30,15,10,0.35)" stroke-width="0.9"/>
<rect x="35.38" y="188.66" width="14.9" height="0.9" fill="rgba(30,15,10,0.45)"/>
<path d="M49.58 188.46 a2.7 2.7 0 0 1 5.4 0" fill="none" stroke="rgba(30,15,10,0.35)" stroke-width="0.9"/>
<rect x="35.38" y="217.28" width="14.9" height="0.9" fill="rgba(30,15,10,0.45)"/>
<path d="M49.58 217.08 a2.7 2.7 0 0 1 5.4 0" fill="none" stroke="rgba(30,15,10,0.35)" stroke-width="0.9"/>
<rect x="35.38" y="245.9" width="14.9" height="0.9" fill="rgba(30,15,10,0.45)"/>
<path d="M49.58 245.7 a2.7 2.7 0 0 1 5.4 0" fill="none" stroke="rgba(30,15,10,0.35)" stroke-width="0.9"/>
<rect x="35.38" y="274.52" width="14.9" height="0.9" fill="rgba(30,15,10,0.45)"/>
<path d="M49.58 274.32 a2.7 2.7 0 0 1 5.4 0" fill="none" stroke="rgba(30,15,10,0.35)" stroke-width="0.9"/>
<rect x="35.38" y="303.14" width="14.9" height="0.9" fill="rgba(30,15,10,0.45)"/>
<path d="M49.58 302.94 a2.7 2.7 0 0 1 5.4 0" fill="none" stroke="rgba(30,15,10,0.35)" stroke-width="0.9"/>
<rect x="35.38" y="331.76" width="14.9" height="0.9" fill="rgba(30,15,10,0.45)"/>
<path d="M49.58 331.56 a2.7 2.7 0 0 1 5.4 0" fill="none" stroke="rgba(30,15,10,0.35)" stroke-width="0.9"/>
<rect x="35.38" y="360.38" width="14.9" height="0.9" fill="rgba(30,15,10,0.45)"/>
<path d="M49.58 360.18 a2.7 2.7 0 0 1 5.4 0" fill="none" stroke="rgba(30,15,10,0.35)" stroke-width="0.9"/>
<rect x="35.38" y="389" width="14.9" height="0.9" fill="rgba(30,15,10,0.45)"/>
<path d="M49.58 388.8 a2.7 2.7 0 0 1 5.4 0" fill="none" stroke="rgba(30,15,10,0.35)" stroke-width="0.9"/>
</g>
<g mask="url(#m2)"><rect x="36.38" y="143.54" width="255.5" height="321.2" fill="#F9B0BA"/><rect x="36.38" y="143.54" width="8.4" height="321.2" fill="#FCC4CB"/><rect x="44.78" y="143.54" width="1.6" height="321.2" fill="#FCC4CB" opacity="0.5"/><rect x="36.38" y="143.54" width="255.5" height="1" fill="#fff" opacity="0.22"/><rect x="288.88" y="143.54" width="3" height="321.2" fill="#000" opacity="0.05"/><rect x="36.38" y="463.74" width="255.5" height="1" fill="#000" opacity="0.06"/><rect x="59.88" y="151.74" width="165.6" height="10.2" fill="none" stroke="#B06E78" stroke-width="0.9"/><rect x="229.28" y="151.74" width="58" height="10.2" fill="none" stroke="#B06E78" stroke-width="0.9"/><rect x="248.13" y="151.74" width="0.9" height="10.2" fill="#B06E78"/><rect x="267.43" y="151.74" width="0.9" height="10.2" fill="#B06E78"/><rect x="59.88" y="171.54" width="226.9" height="1" fill="#B06E78"/><rect x="59.88" y="172.54" width="226.9" height="1" fill="#fff" opacity="0.18"/><rect x="59.88" y="179.66" width="226.9" height="1" fill="#B06E78"/><rect x="59.88" y="180.66" width="226.9" height="1" fill="#fff" opacity="0.18"/><rect x="59.88" y="187.78" width="226.9" height="1" fill="#B06E78"/><rect x="59.88" y="188.78" width="226.9" height="1" fill="#fff" opacity="0.18"/><rect x="59.88" y="195.9" width="226.9" height="1" fill="#B06E78"/><rect x="59.88" y="196.9" width="226.9" height="1" fill="#fff" opacity="0.18"/><rect x="59.88" y="204.02" width="226.9" height="1" fill="#B06E78"/><rect x="59.88" y="205.02" width="226.9" height="1" fill="#fff" opacity="0.18"/><rect x="59.88" y="212.14" width="226.9" height="1" fill="#B06E78"/><rect x="59.88" y="213.14" width="226.9" height="1" fill="#fff" opacity="0.18"/><rect x="59.88" y="220.26" width="226.9" height="1" fill="#B06E78"/><rect x="59.88" y="221.26" width="226.9" height="1" fill="#fff" opacity="0.18"/><rect x="59.88" y="228.38" width="226.9" height="1" fill="#B06E78"/><rect x="59.88" y="229.38" width="226.9" height="1" fill="#fff" opacity="0.18"/><rect x="59.88" y="236.5" width="226.9" height="1" fill="#B06E78"/><rect x="59.88" y="237.5" width="226.9" height="1" fill="#fff" opacity="0.18"/><rect x="59.88" y="244.62" width="226.9" height="1" fill="#B06E78"/><rect x="59.88" y="245.62" width="226.9" height="1" fill="#fff" opacity="0.18"/><rect x="59.88" y="252.74" width="226.9" height="1" fill="#B06E78"/><rect x="59.88" y="253.74" width="226.9" height="1" fill="#fff" opacity="0.18"/><rect x="59.88" y="260.86" width="226.9" height="1" fill="#B06E78"/><rect x="59.88" y="261.86" width="226.9" height="1" fill="#fff" opacity="0.18"/><rect x="59.88" y="268.98" width="226.9" height="1" fill="#B06E78"/><rect x="59.88" y="269.98" width="226.9" height="1" fill="#fff" opacity="0.18"/><rect x="59.88" y="277.1" width="226.9" height="1" fill="#B06E78"/><rect x="59.88" y="278.1" width="226.9" height="1" fill="#fff" opacity="0.18"/><rect x="59.88" y="285.22" width="226.9" height="1" fill="#B06E78"/><rect x="59.88" y="286.22" width="226.9" height="1" fill="#fff" opacity="0.18"/><rect x="59.88" y="293.34" width="226.9" height="1" fill="#B06E78"/><rect x="59.88" y="294.34" width="226.9" height="1" fill="#fff" opacity="0.18"/><rect x="59.88" y="301.46" width="226.9" height="1" fill="#B06E78"/><rect x="59.88" y="302.46" width="226.9" height="1" fill="#fff" opacity="0.18"/><rect x="59.88" y="309.58" width="226.9" height="1" fill="#B06E78"/><rect x="59.88" y="310.58" width="226.9" height="1" fill="#fff" opacity="0.18"/><rect x="59.88" y="317.7" width="226.9" height="1" fill="#B06E78"/><rect x="59.88" y="318.7" width="226.9" height="1" fill="#fff" opacity="0.18"/><rect x="59.88" y="325.82" width="226.9" height="1" fill="#B06E78"/><rect x="59.88" y="326.82" width="226.9" height="1" fill="#fff" opacity="0.18"/><rect x="59.88" y="333.94" width="226.9" height="1" fill="#B06E78"/><rect x="59.88" y="334.94" width="226.9" height="1" fill="#fff" opacity="0.18"/><rect x="59.88" y="342.06" width="226.9" height="1" fill="#B06E78"/><rect x="59.88" y="343.06" width="226.9" height="1" fill="#fff" opacity="0.18"/><rect x="59.88" y="350.18" width="226.9" height="1" fill="#B06E78"/><rect x="59.88" y="351.18" width="226.9" height="1" fill="#fff" opacity="0.18"/><rect x="59.88" y="358.3" width="226.9" height="1" fill="#B06E78"/><rect x="59.88" y="359.3" width="226.9" height="1" fill="#fff" opacity="0.18"/><rect x="59.88" y="366.42" width="226.9" height="1" fill="#B06E78"/><rect x="59.88" y="367.42" width="226.9" height="1" fill="#fff" opacity="0.18"/><rect x="59.88" y="374.54" width="226.9" height="1" fill="#B06E78"/><rect x="59.88" y="375.54" width="226.9" height="1" fill="#fff" opacity="0.18"/><rect x="59.88" y="382.66" width="226.9" height="1" fill="#B06E78"/><rect x="59.88" y="383.66" width="226.9" height="1" fill="#fff" opacity="0.18"/><rect x="59.88" y="390.78" width="226.9" height="1" fill="#B06E78"/><rect x="59.88" y="391.78" width="226.9" height="1" fill="#fff" opacity="0.18"/><rect x="59.88" y="398.9" width="226.9" height="1" fill="#B06E78"/><rect x="59.88" y="399.9" width="226.9" height="1" fill="#fff" opacity="0.18"/><rect x="59.88" y="407.02" width="226.9" height="1" fill="#B06E78"/><rect x="59.88" y="408.02" width="226.9" height="1" fill="#fff" opacity="0.18"/><rect x="59.88" y="415.14" width="226.9" height="1" fill="#B06E78"/><rect x="59.88" y="416.14" width="226.9" height="1" fill="#fff" opacity="0.18"/><rect x="59.88" y="423.26" width="226.9" height="1" fill="#B06E78"/><rect x="59.88" y="424.26" width="226.9" height="1" fill="#fff" opacity="0.18"/><rect x="59.88" y="431.38" width="226.9" height="1" fill="#B06E78"/><rect x="59.88" y="432.38" width="226.9" height="1" fill="#fff" opacity="0.18"/><rect x="59.88" y="439.5" width="226.9" height="1" fill="#B06E78"/><rect x="59.88" y="440.5" width="226.9" height="1" fill="#fff" opacity="0.18"/><rect x="59.88" y="447.62" width="226.9" height="1" fill="#B06E78"/><rect x="59.88" y="448.62" width="226.9" height="1" fill="#fff" opacity="0.18"/><rect x="59.88" y="455.74" width="226.9" height="1" fill="#B06E78"/><rect x="59.88" y="456.74" width="226.9" height="1" fill="#fff" opacity="0.18"/></g>
<g clip-path="url(#c3)">
<rect x="52.72" y="211.96" width="255.5" height="3" fill="url(#shT)"/>
<rect x="52.22" y="214.96" width="2" height="321.2" fill="url(#shL)"/>
<rect x="53.22" y="230.81" width="16.9" height="1.7" fill="rgba(20,25,40,0.16)"/><circle cx="70.12" cy="231.66" r="3.2" fill="rgba(20,25,40,0.16)"/><rect x="53.22" y="259.43" width="16.9" height="1.7" fill="rgba(20,25,40,0.16)"/><circle cx="70.12" cy="260.28" r="3.2" fill="rgba(20,25,40,0.16)"/><rect x="53.22" y="288.05" width="16.9" height="1.7" fill="rgba(20,25,40,0.16)"/><circle cx="70.12" cy="288.9" r="3.2" fill="rgba(20,25,40,0.16)"/><rect x="53.22" y="316.67" width="16.9" height="1.7" fill="rgba(20,25,40,0.16)"/><circle cx="70.12" cy="317.52" r="3.2" fill="rgba(20,25,40,0.16)"/><rect x="53.22" y="345.29" width="16.9" height="1.7" fill="rgba(20,25,40,0.16)"/><circle cx="70.12" cy="346.14" r="3.2" fill="rgba(20,25,40,0.16)"/><rect x="53.22" y="373.91" width="16.9" height="1.7" fill="rgba(20,25,40,0.16)"/><circle cx="70.12" cy="374.76" r="3.2" fill="rgba(20,25,40,0.16)"/><rect x="53.22" y="402.53" width="16.9" height="1.7" fill="rgba(20,25,40,0.16)"/><circle cx="70.12" cy="403.38" r="3.2" fill="rgba(20,25,40,0.16)"/><rect x="53.22" y="431.15" width="16.9" height="1.7" fill="rgba(20,25,40,0.16)"/><circle cx="70.12" cy="432" r="3.2" fill="rgba(20,25,40,0.16)"/><rect x="53.22" y="459.77" width="16.9" height="1.7" fill="rgba(20,25,40,0.16)"/><circle cx="70.12" cy="460.62" r="3.2" fill="rgba(20,25,40,0.16)"/>
<rect x="53.22" y="231.46" width="14.9" height="0.9" fill="rgba(30,15,10,0.45)"/>
<path d="M67.42 231.26 a2.7 2.7 0 0 1 5.4 0" fill="none" stroke="rgba(30,15,10,0.35)" stroke-width="0.9"/>
<rect x="53.22" y="260.08" width="14.9" height="0.9" fill="rgba(30,15,10,0.45)"/>
<path d="M67.42 259.88 a2.7 2.7 0 0 1 5.4 0" fill="none" stroke="rgba(30,15,10,0.35)" stroke-width="0.9"/>
<rect x="53.22" y="288.7" width="14.9" height="0.9" fill="rgba(30,15,10,0.45)"/>
<path d="M67.42 288.5 a2.7 2.7 0 0 1 5.4 0" fill="none" stroke="rgba(30,15,10,0.35)" stroke-width="0.9"/>
<rect x="53.22" y="317.32" width="14.9" height="0.9" fill="rgba(30,15,10,0.45)"/>
<path d="M67.42 317.12 a2.7 2.7 0 0 1 5.4 0" fill="none" stroke="rgba(30,15,10,0.35)" stroke-width="0.9"/>
<rect x="53.22" y="345.94" width="14.9" height="0.9" fill="rgba(30,15,10,0.45)"/>
<path d="M67.42 345.74 a2.7 2.7 0 0 1 5.4 0" fill="none" stroke="rgba(30,15,10,0.35)" stroke-width="0.9"/>
<rect x="53.22" y="374.56" width="14.9" height="0.9" fill="rgba(30,15,10,0.45)"/>
<path d="M67.42 374.36 a2.7 2.7 0 0 1 5.4 0" fill="none" stroke="rgba(30,15,10,0.35)" stroke-width="0.9"/>
<rect x="53.22" y="403.18" width="14.9" height="0.9" fill="rgba(30,15,10,0.45)"/>
<path d="M67.42 402.98 a2.7 2.7 0 0 1 5.4 0" fill="none" stroke="rgba(30,15,10,0.35)" stroke-width="0.9"/>
<rect x="53.22" y="431.8" width="14.9" height="0.9" fill="rgba(30,15,10,0.45)"/>
<path d="M67.42 431.6 a2.7 2.7 0 0 1 5.4 0" fill="none" stroke="rgba(30,15,10,0.35)" stroke-width="0.9"/>
<rect x="53.22" y="460.42" width="14.9" height="0.9" fill="rgba(30,15,10,0.45)"/>
<path d="M67.42 460.22 a2.7 2.7 0 0 1 5.4 0" fill="none" stroke="rgba(30,15,10,0.35)" stroke-width="0.9"/>
</g>
<g mask="url(#m3)"><rect x="54.22" y="214.96" width="255.5" height="321.2" fill="#AEDFB4"/><rect x="54.22" y="214.96" width="8.4" height="321.2" fill="#C0E8C6"/><rect x="62.62" y="214.96" width="1.6" height="321.2" fill="#C0E8C6" opacity="0.5"/><rect x="54.22" y="214.96" width="255.5" height="1" fill="#fff" opacity="0.22"/><rect x="306.72" y="214.96" width="3" height="321.2" fill="#000" opacity="0.05"/><rect x="54.22" y="535.16" width="255.5" height="1" fill="#000" opacity="0.06"/><rect x="77.72" y="223.16" width="165.6" height="10.2" fill="none" stroke="#6EA678" stroke-width="0.9"/><rect x="247.12" y="223.16" width="58" height="10.2" fill="none" stroke="#6EA678" stroke-width="0.9"/><rect x="265.97" y="223.16" width="0.9" height="10.2" fill="#6EA678"/><rect x="285.27" y="223.16" width="0.9" height="10.2" fill="#6EA678"/><rect x="77.72" y="242.96" width="226.9" height="1" fill="#6EA678"/><rect x="77.72" y="243.96" width="226.9" height="1" fill="#fff" opacity="0.18"/><rect x="77.72" y="251.08" width="226.9" height="1" fill="#6EA678"/><rect x="77.72" y="252.08" width="226.9" height="1" fill="#fff" opacity="0.18"/><rect x="77.72" y="259.2" width="226.9" height="1" fill="#6EA678"/><rect x="77.72" y="260.2" width="226.9" height="1" fill="#fff" opacity="0.18"/><rect x="77.72" y="267.32" width="226.9" height="1" fill="#6EA678"/><rect x="77.72" y="268.32" width="226.9" height="1" fill="#fff" opacity="0.18"/><rect x="77.72" y="275.44" width="226.9" height="1" fill="#6EA678"/><rect x="77.72" y="276.44" width="226.9" height="1" fill="#fff" opacity="0.18"/><rect x="77.72" y="283.56" width="226.9" height="1" fill="#6EA678"/><rect x="77.72" y="284.56" width="226.9" height="1" fill="#fff" opacity="0.18"/><rect x="77.72" y="291.68" width="226.9" height="1" fill="#6EA678"/><rect x="77.72" y="292.68" width="226.9" height="1" fill="#fff" opacity="0.18"/><rect x="77.72" y="299.8" width="226.9" height="1" fill="#6EA678"/><rect x="77.72" y="300.8" width="226.9" height="1" fill="#fff" opacity="0.18"/><rect x="77.72" y="307.92" width="226.9" height="1" fill="#6EA678"/><rect x="77.72" y="308.92" width="226.9" height="1" fill="#fff" opacity="0.18"/><rect x="77.72" y="316.04" width="226.9" height="1" fill="#6EA678"/><rect x="77.72" y="317.04" width="226.9" height="1" fill="#fff" opacity="0.18"/><rect x="77.72" y="324.16" width="226.9" height="1" fill="#6EA678"/><rect x="77.72" y="325.16" width="226.9" height="1" fill="#fff" opacity="0.18"/><rect x="77.72" y="332.28" width="226.9" height="1" fill="#6EA678"/><rect x="77.72" y="333.28" width="226.9" height="1" fill="#fff" opacity="0.18"/><rect x="77.72" y="340.4" width="226.9" height="1" fill="#6EA678"/><rect x="77.72" y="341.4" width="226.9" height="1" fill="#fff" opacity="0.18"/><rect x="77.72" y="348.52" width="226.9" height="1" fill="#6EA678"/><rect x="77.72" y="349.52" width="226.9" height="1" fill="#fff" opacity="0.18"/><rect x="77.72" y="356.64" width="226.9" height="1" fill="#6EA678"/><rect x="77.72" y="357.64" width="226.9" height="1" fill="#fff" opacity="0.18"/><rect x="77.72" y="364.76" width="226.9" height="1" fill="#6EA678"/><rect x="77.72" y="365.76" width="226.9" height="1" fill="#fff" opacity="0.18"/><rect x="77.72" y="372.88" width="226.9" height="1" fill="#6EA678"/><rect x="77.72" y="373.88" width="226.9" height="1" fill="#fff" opacity="0.18"/><rect x="77.72" y="381" width="226.9" height="1" fill="#6EA678"/><rect x="77.72" y="382" width="226.9" height="1" fill="#fff" opacity="0.18"/><rect x="77.72" y="389.12" width="226.9" height="1" fill="#6EA678"/><rect x="77.72" y="390.12" width="226.9" height="1" fill="#fff" opacity="0.18"/><rect x="77.72" y="397.24" width="226.9" height="1" fill="#6EA678"/><rect x="77.72" y="398.24" width="226.9" height="1" fill="#fff" opacity="0.18"/><rect x="77.72" y="405.36" width="226.9" height="1" fill="#6EA678"/><rect x="77.72" y="406.36" width="226.9" height="1" fill="#fff" opacity="0.18"/><rect x="77.72" y="413.48" width="226.9" height="1" fill="#6EA678"/><rect x="77.72" y="414.48" width="226.9" height="1" fill="#fff" opacity="0.18"/><rect x="77.72" y="421.6" width="226.9" height="1" fill="#6EA678"/><rect x="77.72" y="422.6" width="226.9" height="1" fill="#fff" opacity="0.18"/><rect x="77.72" y="429.72" width="226.9" height="1" fill="#6EA678"/><rect x="77.72" y="430.72" width="226.9" height="1" fill="#fff" opacity="0.18"/><rect x="77.72" y="437.84" width="226.9" height="1" fill="#6EA678"/><rect x="77.72" y="438.84" width="226.9" height="1" fill="#fff" opacity="0.18"/><rect x="77.72" y="445.96" width="226.9" height="1" fill="#6EA678"/><rect x="77.72" y="446.96" width="226.9" height="1" fill="#fff" opacity="0.18"/><rect x="77.72" y="454.08" width="226.9" height="1" fill="#6EA678"/><rect x="77.72" y="455.08" width="226.9" height="1" fill="#fff" opacity="0.18"/><rect x="77.72" y="462.2" width="226.9" height="1" fill="#6EA678"/><rect x="77.72" y="463.2" width="226.9" height="1" fill="#fff" opacity="0.18"/><rect x="77.72" y="470.32" width="226.9" height="1" fill="#6EA678"/><rect x="77.72" y="471.32" width="226.9" height="1" fill="#fff" opacity="0.18"/><rect x="77.72" y="478.44" width="226.9" height="1" fill="#6EA678"/><rect x="77.72" y="479.44" width="226.9" height="1" fill="#fff" opacity="0.18"/><rect x="77.72" y="486.56" width="226.9" height="1" fill="#6EA678"/><rect x="77.72" y="487.56" width="226.9" height="1" fill="#fff" opacity="0.18"/><rect x="77.72" y="494.68" width="226.9" height="1" fill="#6EA678"/><rect x="77.72" y="495.68" width="226.9" height="1" fill="#fff" opacity="0.18"/><rect x="77.72" y="502.8" width="226.9" height="1" fill="#6EA678"/><rect x="77.72" y="503.8" width="226.9" height="1" fill="#fff" opacity="0.18"/><rect x="77.72" y="510.92" width="226.9" height="1" fill="#6EA678"/><rect x="77.72" y="511.92" width="226.9" height="1" fill="#fff" opacity="0.18"/><rect x="77.72" y="519.04" width="226.9" height="1" fill="#6EA678"/><rect x="77.72" y="520.04" width="226.9" height="1" fill="#fff" opacity="0.18"/><rect x="77.72" y="527.16" width="226.9" height="1" fill="#6EA678"/><rect x="77.72" y="528.16" width="226.9" height="1" fill="#fff" opacity="0.18"/></g>
<g clip-path="url(#c4)">
<rect x="70.56" y="283.38" width="255.5" height="3" fill="url(#shT)"/>
<rect x="70.06" y="286.38" width="2" height="321.2" fill="url(#shL)"/>
<rect x="71.06" y="302.23" width="16.9" height="1.7" fill="rgba(20,25,40,0.16)"/><circle cx="87.96" cy="303.08" r="3.2" fill="rgba(20,25,40,0.16)"/><rect x="71.06" y="330.85" width="16.9" height="1.7" fill="rgba(20,25,40,0.16)"/><circle cx="87.96" cy="331.7" r="3.2" fill="rgba(20,25,40,0.16)"/><rect x="71.06" y="359.47" width="16.9" height="1.7" fill="rgba(20,25,40,0.16)"/><circle cx="87.96" cy="360.32" r="3.2" fill="rgba(20,25,40,0.16)"/><rect x="71.06" y="388.09" width="16.9" height="1.7" fill="rgba(20,25,40,0.16)"/><circle cx="87.96" cy="388.94" r="3.2" fill="rgba(20,25,40,0.16)"/><rect x="71.06" y="416.71" width="16.9" height="1.7" fill="rgba(20,25,40,0.16)"/><circle cx="87.96" cy="417.56" r="3.2" fill="rgba(20,25,40,0.16)"/><rect x="71.06" y="445.33" width="16.9" height="1.7" fill="rgba(20,25,40,0.16)"/><circle cx="87.96" cy="446.18" r="3.2" fill="rgba(20,25,40,0.16)"/><rect x="71.06" y="473.95" width="16.9" height="1.7" fill="rgba(20,25,40,0.16)"/><circle cx="87.96" cy="474.8" r="3.2" fill="rgba(20,25,40,0.16)"/><rect x="71.06" y="502.57" width="16.9" height="1.7" fill="rgba(20,25,40,0.16)"/><circle cx="87.96" cy="503.42" r="3.2" fill="rgba(20,25,40,0.16)"/><rect x="71.06" y="531.19" width="16.9" height="1.7" fill="rgba(20,25,40,0.16)"/><circle cx="87.96" cy="532.04" r="3.2" fill="rgba(20,25,40,0.16)"/>
<rect x="71.06" y="302.88" width="14.9" height="0.9" fill="rgba(30,15,10,0.45)"/>
<path d="M85.26 302.68 a2.7 2.7 0 0 1 5.4 0" fill="none" stroke="rgba(30,15,10,0.35)" stroke-width="0.9"/>
<rect x="71.06" y="331.5" width="14.9" height="0.9" fill="rgba(30,15,10,0.45)"/>
<path d="M85.26 331.3 a2.7 2.7 0 0 1 5.4 0" fill="none" stroke="rgba(30,15,10,0.35)" stroke-width="0.9"/>
<rect x="71.06" y="360.12" width="14.9" height="0.9" fill="rgba(30,15,10,0.45)"/>
<path d="M85.26 359.92 a2.7 2.7 0 0 1 5.4 0" fill="none" stroke="rgba(30,15,10,0.35)" stroke-width="0.9"/>
<rect x="71.06" y="388.74" width="14.9" height="0.9" fill="rgba(30,15,10,0.45)"/>
<path d="M85.26 388.54 a2.7 2.7 0 0 1 5.4 0" fill="none" stroke="rgba(30,15,10,0.35)" stroke-width="0.9"/>
<rect x="71.06" y="417.36" width="14.9" height="0.9" fill="rgba(30,15,10,0.45)"/>
<path d="M85.26 417.16 a2.7 2.7 0 0 1 5.4 0" fill="none" stroke="rgba(30,15,10,0.35)" stroke-width="0.9"/>
<rect x="71.06" y="445.98" width="14.9" height="0.9" fill="rgba(30,15,10,0.45)"/>
<path d="M85.26 445.78 a2.7 2.7 0 0 1 5.4 0" fill="none" stroke="rgba(30,15,10,0.35)" stroke-width="0.9"/>
<rect x="71.06" y="474.6" width="14.9" height="0.9" fill="rgba(30,15,10,0.45)"/>
<path d="M85.26 474.4 a2.7 2.7 0 0 1 5.4 0" fill="none" stroke="rgba(30,15,10,0.35)" stroke-width="0.9"/>
<rect x="71.06" y="503.22" width="14.9" height="0.9" fill="rgba(30,15,10,0.45)"/>
<path d="M85.26 503.02 a2.7 2.7 0 0 1 5.4 0" fill="none" stroke="rgba(30,15,10,0.35)" stroke-width="0.9"/>
<rect x="71.06" y="531.84" width="14.9" height="0.9" fill="rgba(30,15,10,0.45)"/>
<path d="M85.26 531.64 a2.7 2.7 0 0 1 5.4 0" fill="none" stroke="rgba(30,15,10,0.35)" stroke-width="0.9"/>
</g>
<g mask="url(#m4)"><rect x="72.06" y="286.38" width="255.5" height="321.2" fill="#EFD98C"/><rect x="72.06" y="286.38" width="8.4" height="321.2" fill="#F6E2A8"/><rect x="80.46" y="286.38" width="1.6" height="321.2" fill="#F6E2A8" opacity="0.5"/><rect x="72.06" y="286.38" width="255.5" height="1" fill="#fff" opacity="0.22"/><rect x="324.56" y="286.38" width="3" height="321.2" fill="#000" opacity="0.05"/><rect x="72.06" y="606.58" width="255.5" height="1" fill="#000" opacity="0.06"/><rect x="95.56" y="294.58" width="165.6" height="10.2" fill="none" stroke="#A8924A" stroke-width="0.9"/><rect x="264.96" y="294.58" width="58" height="10.2" fill="none" stroke="#A8924A" stroke-width="0.9"/><rect x="283.81" y="294.58" width="0.9" height="10.2" fill="#A8924A"/><rect x="303.11" y="294.58" width="0.9" height="10.2" fill="#A8924A"/><rect x="95.56" y="314.38" width="226.9" height="1" fill="#A8924A"/><rect x="95.56" y="315.38" width="226.9" height="1" fill="#fff" opacity="0.18"/><rect x="95.56" y="322.5" width="226.9" height="1" fill="#A8924A"/><rect x="95.56" y="323.5" width="226.9" height="1" fill="#fff" opacity="0.18"/><rect x="95.56" y="330.62" width="226.9" height="1" fill="#A8924A"/><rect x="95.56" y="331.62" width="226.9" height="1" fill="#fff" opacity="0.18"/><rect x="95.56" y="338.74" width="226.9" height="1" fill="#A8924A"/><rect x="95.56" y="339.74" width="226.9" height="1" fill="#fff" opacity="0.18"/><rect x="95.56" y="346.86" width="226.9" height="1" fill="#A8924A"/><rect x="95.56" y="347.86" width="226.9" height="1" fill="#fff" opacity="0.18"/><rect x="95.56" y="354.98" width="226.9" height="1" fill="#A8924A"/><rect x="95.56" y="355.98" width="226.9" height="1" fill="#fff" opacity="0.18"/><rect x="95.56" y="363.1" width="226.9" height="1" fill="#A8924A"/><rect x="95.56" y="364.1" width="226.9" height="1" fill="#fff" opacity="0.18"/><rect x="95.56" y="371.22" width="226.9" height="1" fill="#A8924A"/><rect x="95.56" y="372.22" width="226.9" height="1" fill="#fff" opacity="0.18"/><rect x="95.56" y="379.34" width="226.9" height="1" fill="#A8924A"/><rect x="95.56" y="380.34" width="226.9" height="1" fill="#fff" opacity="0.18"/><rect x="95.56" y="387.46" width="226.9" height="1" fill="#A8924A"/><rect x="95.56" y="388.46" width="226.9" height="1" fill="#fff" opacity="0.18"/><rect x="95.56" y="395.58" width="226.9" height="1" fill="#A8924A"/><rect x="95.56" y="396.58" width="226.9" height="1" fill="#fff" opacity="0.18"/><rect x="95.56" y="403.7" width="226.9" height="1" fill="#A8924A"/><rect x="95.56" y="404.7" width="226.9" height="1" fill="#fff" opacity="0.18"/><rect x="95.56" y="411.82" width="226.9" height="1" fill="#A8924A"/><rect x="95.56" y="412.82" width="226.9" height="1" fill="#fff" opacity="0.18"/><rect x="95.56" y="419.94" width="226.9" height="1" fill="#A8924A"/><rect x="95.56" y="420.94" width="226.9" height="1" fill="#fff" opacity="0.18"/><rect x="95.56" y="428.06" width="226.9" height="1" fill="#A8924A"/><rect x="95.56" y="429.06" width="226.9" height="1" fill="#fff" opacity="0.18"/><rect x="95.56" y="436.18" width="226.9" height="1" fill="#A8924A"/><rect x="95.56" y="437.18" width="226.9" height="1" fill="#fff" opacity="0.18"/><rect x="95.56" y="444.3" width="226.9" height="1" fill="#A8924A"/><rect x="95.56" y="445.3" width="226.9" height="1" fill="#fff" opacity="0.18"/><rect x="95.56" y="452.42" width="226.9" height="1" fill="#A8924A"/><rect x="95.56" y="453.42" width="226.9" height="1" fill="#fff" opacity="0.18"/><rect x="95.56" y="460.54" width="226.9" height="1" fill="#A8924A"/><rect x="95.56" y="461.54" width="226.9" height="1" fill="#fff" opacity="0.18"/><rect x="95.56" y="468.66" width="226.9" height="1" fill="#A8924A"/><rect x="95.56" y="469.66" width="226.9" height="1" fill="#fff" opacity="0.18"/><rect x="95.56" y="476.78" width="226.9" height="1" fill="#A8924A"/><rect x="95.56" y="477.78" width="226.9" height="1" fill="#fff" opacity="0.18"/><rect x="95.56" y="484.9" width="226.9" height="1" fill="#A8924A"/><rect x="95.56" y="485.9" width="226.9" height="1" fill="#fff" opacity="0.18"/><rect x="95.56" y="493.02" width="226.9" height="1" fill="#A8924A"/><rect x="95.56" y="494.02" width="226.9" height="1" fill="#fff" opacity="0.18"/><rect x="95.56" y="501.14" width="226.9" height="1" fill="#A8924A"/><rect x="95.56" y="502.14" width="226.9" height="1" fill="#fff" opacity="0.18"/><rect x="95.56" y="509.26" width="226.9" height="1" fill="#A8924A"/><rect x="95.56" y="510.26" width="226.9" height="1" fill="#fff" opacity="0.18"/><rect x="95.56" y="517.38" width="226.9" height="1" fill="#A8924A"/><rect x="95.56" y="518.38" width="226.9" height="1" fill="#fff" opacity="0.18"/><rect x="95.56" y="525.5" width="226.9" height="1" fill="#A8924A"/><rect x="95.56" y="526.5" width="226.9" height="1" fill="#fff" opacity="0.18"/><rect x="95.56" y="533.62" width="226.9" height="1" fill="#A8924A"/><rect x="95.56" y="534.62" width="226.9" height="1" fill="#fff" opacity="0.18"/><rect x="95.56" y="541.74" width="226.9" height="1" fill="#A8924A"/><rect x="95.56" y="542.74" width="226.9" height="1" fill="#fff" opacity="0.18"/><rect x="95.56" y="549.86" width="226.9" height="1" fill="#A8924A"/><rect x="95.56" y="550.86" width="226.9" height="1" fill="#fff" opacity="0.18"/><rect x="95.56" y="557.98" width="226.9" height="1" fill="#A8924A"/><rect x="95.56" y="558.98" width="226.9" height="1" fill="#fff" opacity="0.18"/><rect x="95.56" y="566.1" width="226.9" height="1" fill="#A8924A"/><rect x="95.56" y="567.1" width="226.9" height="1" fill="#fff" opacity="0.18"/><rect x="95.56" y="574.22" width="226.9" height="1" fill="#A8924A"/><rect x="95.56" y="575.22" width="226.9" height="1" fill="#fff" opacity="0.18"/><rect x="95.56" y="582.34" width="226.9" height="1" fill="#A8924A"/><rect x="95.56" y="583.34" width="226.9" height="1" fill="#fff" opacity="0.18"/><rect x="95.56" y="590.46" width="226.9" height="1" fill="#A8924A"/><rect x="95.56" y="591.46" width="226.9" height="1" fill="#fff" opacity="0.18"/><rect x="95.56" y="598.58" width="226.9" height="1" fill="#A8924A"/><rect x="95.56" y="599.58" width="226.9" height="1" fill="#fff" opacity="0.18"/></g>
<g clip-path="url(#c5)">
<rect x="88.4" y="354.8" width="255.5" height="3" fill="url(#shT)"/>
<rect x="87.9" y="357.8" width="2" height="321.2" fill="url(#shL)"/>
<rect x="88.9" y="373.65" width="16.9" height="1.7" fill="rgba(20,25,40,0.0)"/><circle cx="105.8" cy="374.5" r="3.2" fill="rgba(20,25,40,0.0)"/><rect x="88.9" y="402.27" width="16.9" height="1.7" fill="rgba(20,25,40,0.0)"/><circle cx="105.8" cy="403.12" r="3.2" fill="rgba(20,25,40,0.0)"/><rect x="88.9" y="430.89" width="16.9" height="1.7" fill="rgba(20,25,40,0.0)"/><circle cx="105.8" cy="431.74" r="3.2" fill="rgba(20,25,40,0.0)"/><rect x="88.9" y="459.51" width="16.9" height="1.7" fill="rgba(20,25,40,0.0)"/><circle cx="105.8" cy="460.36" r="3.2" fill="rgba(20,25,40,0.0)"/><rect x="88.9" y="488.13" width="16.9" height="1.7" fill="rgba(20,25,40,0.0)"/><circle cx="105.8" cy="488.98" r="3.2" fill="rgba(20,25,40,0.0)"/><rect x="88.9" y="516.75" width="16.9" height="1.7" fill="rgba(20,25,40,0.0)"/><circle cx="105.8" cy="517.6" r="3.2" fill="rgba(20,25,40,0.0)"/><rect x="88.9" y="545.37" width="16.9" height="1.7" fill="rgba(20,25,40,0.0)"/><circle cx="105.8" cy="546.22" r="3.2" fill="rgba(20,25,40,0.0)"/><rect x="88.9" y="573.99" width="16.9" height="1.7" fill="rgba(20,25,40,0.0)"/><circle cx="105.8" cy="574.84" r="3.2" fill="rgba(20,25,40,0.0)"/><rect x="88.9" y="602.61" width="16.9" height="1.7" fill="rgba(20,25,40,0.0)"/><circle cx="105.8" cy="603.46" r="3.2" fill="rgba(20,25,40,0.0)"/>
<rect x="88.9" y="374.3" width="14.9" height="0.9" fill="rgba(30,15,10,0.45)"/>
<path d="M103.1 374.1 a2.7 2.7 0 0 1 5.4 0" fill="none" stroke="rgba(30,15,10,0.35)" stroke-width="0.9"/>
<rect x="88.9" y="402.92" width="14.9" height="0.9" fill="rgba(30,15,10,0.45)"/>
<path d="M103.1 402.72 a2.7 2.7 0 0 1 5.4 0" fill="none" stroke="rgba(30,15,10,0.35)" stroke-width="0.9"/>
<rect x="88.9" y="431.54" width="14.9" height="0.9" fill="rgba(30,15,10,0.45)"/>
<path d="M103.1 431.34 a2.7 2.7 0 0 1 5.4 0" fill="none" stroke="rgba(30,15,10,0.35)" stroke-width="0.9"/>
<rect x="88.9" y="460.16" width="14.9" height="0.9" fill="rgba(30,15,10,0.45)"/>
<path d="M103.1 459.96 a2.7 2.7 0 0 1 5.4 0" fill="none" stroke="rgba(30,15,10,0.35)" stroke-width="0.9"/>
<rect x="88.9" y="488.78" width="14.9" height="0.9" fill="rgba(30,15,10,0.45)"/>
<path d="M103.1 488.58 a2.7 2.7 0 0 1 5.4 0" fill="none" stroke="rgba(30,15,10,0.35)" stroke-width="0.9"/>
<rect x="88.9" y="517.4" width="14.9" height="0.9" fill="rgba(30,15,10,0.45)"/>
<path d="M103.1 517.2 a2.7 2.7 0 0 1 5.4 0" fill="none" stroke="rgba(30,15,10,0.35)" stroke-width="0.9"/>
<rect x="88.9" y="546.02" width="14.9" height="0.9" fill="rgba(30,15,10,0.45)"/>
<path d="M103.1 545.82 a2.7 2.7 0 0 1 5.4 0" fill="none" stroke="rgba(30,15,10,0.35)" stroke-width="0.9"/>
<rect x="88.9" y="574.64" width="14.9" height="0.9" fill="rgba(30,15,10,0.45)"/>
<path d="M103.1 574.44 a2.7 2.7 0 0 1 5.4 0" fill="none" stroke="rgba(30,15,10,0.35)" stroke-width="0.9"/>
<rect x="88.9" y="603.26" width="14.9" height="0.9" fill="rgba(30,15,10,0.45)"/>
<path d="M103.1 603.06 a2.7 2.7 0 0 1 5.4 0" fill="none" stroke="rgba(30,15,10,0.35)" stroke-width="0.9"/>
</g>
<g mask="url(#m5)"><rect x="89.9" y="357.8" width="255.5" height="321.2" fill="#FC8A6B"/><rect x="89.9" y="357.8" width="8.4" height="321.2" fill="#FBA08A"/><rect x="98.3" y="357.8" width="1.6" height="321.2" fill="#FBA08A" opacity="0.5"/><rect x="89.9" y="357.8" width="255.5" height="1" fill="#fff" opacity="0.22"/><rect x="342.4" y="357.8" width="3" height="321.2" fill="#000" opacity="0.05"/><rect x="89.9" y="678" width="255.5" height="1" fill="#000" opacity="0.06"/><rect x="113.4" y="366" width="165.6" height="10.2" fill="none" stroke="#BE5336" stroke-width="0.9"/><rect x="282.8" y="366" width="58" height="10.2" fill="none" stroke="#BE5336" stroke-width="0.9"/><rect x="301.65" y="366" width="0.9" height="10.2" fill="#BE5336"/><rect x="320.95" y="366" width="0.9" height="10.2" fill="#BE5336"/><rect x="113.4" y="385.8" width="226.9" height="1" fill="#BE5336"/><rect x="113.4" y="386.8" width="226.9" height="1" fill="#fff" opacity="0.18"/><rect x="113.4" y="393.92" width="226.9" height="1" fill="#BE5336"/><rect x="113.4" y="394.92" width="226.9" height="1" fill="#fff" opacity="0.18"/><rect x="113.4" y="402.04" width="226.9" height="1" fill="#BE5336"/><rect x="113.4" y="403.04" width="226.9" height="1" fill="#fff" opacity="0.18"/><rect x="113.4" y="410.16" width="226.9" height="1" fill="#BE5336"/><rect x="113.4" y="411.16" width="226.9" height="1" fill="#fff" opacity="0.18"/><rect x="113.4" y="418.28" width="226.9" height="1" fill="#BE5336"/><rect x="113.4" y="419.28" width="226.9" height="1" fill="#fff" opacity="0.18"/><rect x="113.4" y="426.4" width="226.9" height="1" fill="#BE5336"/><rect x="113.4" y="427.4" width="226.9" height="1" fill="#fff" opacity="0.18"/><rect x="113.4" y="434.52" width="226.9" height="1" fill="#BE5336"/><rect x="113.4" y="435.52" width="226.9" height="1" fill="#fff" opacity="0.18"/><rect x="113.4" y="442.64" width="226.9" height="1" fill="#BE5336"/><rect x="113.4" y="443.64" width="226.9" height="1" fill="#fff" opacity="0.18"/><rect x="113.4" y="450.76" width="226.9" height="1" fill="#BE5336"/><rect x="113.4" y="451.76" width="226.9" height="1" fill="#fff" opacity="0.18"/><rect x="113.4" y="458.88" width="226.9" height="1" fill="#BE5336"/><rect x="113.4" y="459.88" width="226.9" height="1" fill="#fff" opacity="0.18"/><rect x="113.4" y="467" width="226.9" height="1" fill="#BE5336"/><rect x="113.4" y="468" width="226.9" height="1" fill="#fff" opacity="0.18"/><rect x="113.4" y="475.12" width="226.9" height="1" fill="#BE5336"/><rect x="113.4" y="476.12" width="226.9" height="1" fill="#fff" opacity="0.18"/><rect x="113.4" y="483.24" width="226.9" height="1" fill="#BE5336"/><rect x="113.4" y="484.24" width="226.9" height="1" fill="#fff" opacity="0.18"/><rect x="113.4" y="491.36" width="226.9" height="1" fill="#BE5336"/><rect x="113.4" y="492.36" width="226.9" height="1" fill="#fff" opacity="0.18"/><rect x="113.4" y="499.48" width="226.9" height="1" fill="#BE5336"/><rect x="113.4" y="500.48" width="226.9" height="1" fill="#fff" opacity="0.18"/><rect x="113.4" y="507.6" width="226.9" height="1" fill="#BE5336"/><rect x="113.4" y="508.6" width="226.9" height="1" fill="#fff" opacity="0.18"/><rect x="113.4" y="515.72" width="226.9" height="1" fill="#BE5336"/><rect x="113.4" y="516.72" width="226.9" height="1" fill="#fff" opacity="0.18"/><rect x="113.4" y="523.84" width="226.9" height="1" fill="#BE5336"/><rect x="113.4" y="524.84" width="226.9" height="1" fill="#fff" opacity="0.18"/><rect x="113.4" y="531.96" width="226.9" height="1" fill="#BE5336"/><rect x="113.4" y="532.96" width="226.9" height="1" fill="#fff" opacity="0.18"/><rect x="113.4" y="540.08" width="226.9" height="1" fill="#BE5336"/><rect x="113.4" y="541.08" width="226.9" height="1" fill="#fff" opacity="0.18"/><rect x="113.4" y="548.2" width="226.9" height="1" fill="#BE5336"/><rect x="113.4" y="549.2" width="226.9" height="1" fill="#fff" opacity="0.18"/><rect x="113.4" y="556.32" width="226.9" height="1" fill="#BE5336"/><rect x="113.4" y="557.32" width="226.9" height="1" fill="#fff" opacity="0.18"/><rect x="113.4" y="564.44" width="226.9" height="1" fill="#BE5336"/><rect x="113.4" y="565.44" width="226.9" height="1" fill="#fff" opacity="0.18"/><rect x="113.4" y="572.56" width="226.9" height="1" fill="#BE5336"/><rect x="113.4" y="573.56" width="226.9" height="1" fill="#fff" opacity="0.18"/><rect x="113.4" y="580.68" width="226.9" height="1" fill="#BE5336"/><rect x="113.4" y="581.68" width="226.9" height="1" fill="#fff" opacity="0.18"/><rect x="113.4" y="588.8" width="226.9" height="1" fill="#BE5336"/><rect x="113.4" y="589.8" width="226.9" height="1" fill="#fff" opacity="0.18"/><rect x="113.4" y="596.92" width="226.9" height="1" fill="#BE5336"/><rect x="113.4" y="597.92" width="226.9" height="1" fill="#fff" opacity="0.18"/><rect x="113.4" y="605.04" width="226.9" height="1" fill="#BE5336"/><rect x="113.4" y="606.04" width="226.9" height="1" fill="#fff" opacity="0.18"/><rect x="113.4" y="613.16" width="226.9" height="1" fill="#BE5336"/><rect x="113.4" y="614.16" width="226.9" height="1" fill="#fff" opacity="0.18"/><rect x="113.4" y="621.28" width="226.9" height="1" fill="#BE5336"/><rect x="113.4" y="622.28" width="226.9" height="1" fill="#fff" opacity="0.18"/><rect x="113.4" y="629.4" width="226.9" height="1" fill="#BE5336"/><rect x="113.4" y="630.4" width="226.9" height="1" fill="#fff" opacity="0.18"/><rect x="113.4" y="637.52" width="226.9" height="1" fill="#BE5336"/><rect x="113.4" y="638.52" width="226.9" height="1" fill="#fff" opacity="0.18"/><rect x="113.4" y="645.64" width="226.9" height="1" fill="#BE5336"/><rect x="113.4" y="646.64" width="226.9" height="1" fill="#fff" opacity="0.18"/><rect x="113.4" y="653.76" width="226.9" height="1" fill="#BE5336"/><rect x="113.4" y="654.76" width="226.9" height="1" fill="#fff" opacity="0.18"/><rect x="113.4" y="661.88" width="226.9" height="1" fill="#BE5336"/><rect x="113.4" y="662.88" width="226.9" height="1" fill="#fff" opacity="0.18"/><rect x="113.4" y="670" width="226.9" height="1" fill="#BE5336"/><rect x="113.4" y="671" width="226.9" height="1" fill="#fff" opacity="0.18"/></g>
<g mask="url(#m6)"><rect x="332.9" y="1.06" width="256" height="321.2" fill="#9DD5DD"/><rect x="332.9" y="1.06" width="8.4" height="321.2" fill="#ABDDE5"/><rect x="341.3" y="1.06" width="1.6" height="321.2" fill="#ABDDE5" opacity="0.5"/><rect x="332.9" y="1.06" width="256" height="1" fill="#fff" opacity="0.22"/><rect x="585.9" y="1.06" width="3" height="321.2" fill="#000" opacity="0.05"/><rect x="332.9" y="321.26" width="256" height="1" fill="#000" opacity="0.06"/><rect x="356.4" y="9.26" width="166.1" height="10.2" fill="none" stroke="#4C8A96" stroke-width="0.9"/><rect x="526.3" y="9.26" width="58" height="10.2" fill="none" stroke="#4C8A96" stroke-width="0.9"/><rect x="545.15" y="9.26" width="0.9" height="10.2" fill="#4C8A96"/><rect x="564.45" y="9.26" width="0.9" height="10.2" fill="#4C8A96"/><rect x="356.4" y="29.06" width="227.4" height="1" fill="#4C8A96"/><rect x="356.4" y="30.06" width="227.4" height="1" fill="#fff" opacity="0.18"/><rect x="356.4" y="37.18" width="227.4" height="1" fill="#4C8A96"/><rect x="356.4" y="38.18" width="227.4" height="1" fill="#fff" opacity="0.18"/><rect x="356.4" y="45.3" width="227.4" height="1" fill="#4C8A96"/><rect x="356.4" y="46.3" width="227.4" height="1" fill="#fff" opacity="0.18"/><rect x="356.4" y="53.42" width="227.4" height="1" fill="#4C8A96"/><rect x="356.4" y="54.42" width="227.4" height="1" fill="#fff" opacity="0.18"/><rect x="356.4" y="61.54" width="227.4" height="1" fill="#4C8A96"/><rect x="356.4" y="62.54" width="227.4" height="1" fill="#fff" opacity="0.18"/><rect x="356.4" y="69.66" width="227.4" height="1" fill="#4C8A96"/><rect x="356.4" y="70.66" width="227.4" height="1" fill="#fff" opacity="0.18"/><rect x="356.4" y="77.78" width="227.4" height="1" fill="#4C8A96"/><rect x="356.4" y="78.78" width="227.4" height="1" fill="#fff" opacity="0.18"/><rect x="356.4" y="85.9" width="227.4" height="1" fill="#4C8A96"/><rect x="356.4" y="86.9" width="227.4" height="1" fill="#fff" opacity="0.18"/><rect x="356.4" y="94.02" width="227.4" height="1" fill="#4C8A96"/><rect x="356.4" y="95.02" width="227.4" height="1" fill="#fff" opacity="0.18"/><rect x="356.4" y="102.14" width="227.4" height="1" fill="#4C8A96"/><rect x="356.4" y="103.14" width="227.4" height="1" fill="#fff" opacity="0.18"/><rect x="356.4" y="110.26" width="227.4" height="1" fill="#4C8A96"/><rect x="356.4" y="111.26" width="227.4" height="1" fill="#fff" opacity="0.18"/><rect x="356.4" y="118.38" width="227.4" height="1" fill="#4C8A96"/><rect x="356.4" y="119.38" width="227.4" height="1" fill="#fff" opacity="0.18"/><rect x="356.4" y="126.5" width="227.4" height="1" fill="#4C8A96"/><rect x="356.4" y="127.5" width="227.4" height="1" fill="#fff" opacity="0.18"/><rect x="356.4" y="134.62" width="227.4" height="1" fill="#4C8A96"/><rect x="356.4" y="135.62" width="227.4" height="1" fill="#fff" opacity="0.18"/><rect x="356.4" y="142.74" width="227.4" height="1" fill="#4C8A96"/><rect x="356.4" y="143.74" width="227.4" height="1" fill="#fff" opacity="0.18"/><rect x="356.4" y="150.86" width="227.4" height="1" fill="#4C8A96"/><rect x="356.4" y="151.86" width="227.4" height="1" fill="#fff" opacity="0.18"/><rect x="356.4" y="158.98" width="227.4" height="1" fill="#4C8A96"/><rect x="356.4" y="159.98" width="227.4" height="1" fill="#fff" opacity="0.18"/><rect x="356.4" y="167.1" width="227.4" height="1" fill="#4C8A96"/><rect x="356.4" y="168.1" width="227.4" height="1" fill="#fff" opacity="0.18"/><rect x="356.4" y="175.22" width="227.4" height="1" fill="#4C8A96"/><rect x="356.4" y="176.22" width="227.4" height="1" fill="#fff" opacity="0.18"/><rect x="356.4" y="183.34" width="227.4" height="1" fill="#4C8A96"/><rect x="356.4" y="184.34" width="227.4" height="1" fill="#fff" opacity="0.18"/><rect x="356.4" y="191.46" width="227.4" height="1" fill="#4C8A96"/><rect x="356.4" y="192.46" width="227.4" height="1" fill="#fff" opacity="0.18"/><rect x="356.4" y="199.58" width="227.4" height="1" fill="#4C8A96"/><rect x="356.4" y="200.58" width="227.4" height="1" fill="#fff" opacity="0.18"/><rect x="356.4" y="207.7" width="227.4" height="1" fill="#4C8A96"/><rect x="356.4" y="208.7" width="227.4" height="1" fill="#fff" opacity="0.18"/><rect x="356.4" y="215.82" width="227.4" height="1" fill="#4C8A96"/><rect x="356.4" y="216.82" width="227.4" height="1" fill="#fff" opacity="0.18"/><rect x="356.4" y="223.94" width="227.4" height="1" fill="#4C8A96"/><rect x="356.4" y="224.94" width="227.4" height="1" fill="#fff" opacity="0.18"/><rect x="356.4" y="232.06" width="227.4" height="1" fill="#4C8A96"/><rect x="356.4" y="233.06" width="227.4" height="1" fill="#fff" opacity="0.18"/><rect x="356.4" y="240.18" width="227.4" height="1" fill="#4C8A96"/><rect x="356.4" y="241.18" width="227.4" height="1" fill="#fff" opacity="0.18"/><rect x="356.4" y="248.3" width="227.4" height="1" fill="#4C8A96"/><rect x="356.4" y="249.3" width="227.4" height="1" fill="#fff" opacity="0.18"/><rect x="356.4" y="256.42" width="227.4" height="1" fill="#4C8A96"/><rect x="356.4" y="257.42" width="227.4" height="1" fill="#fff" opacity="0.18"/><rect x="356.4" y="264.54" width="227.4" height="1" fill="#4C8A96"/><rect x="356.4" y="265.54" width="227.4" height="1" fill="#fff" opacity="0.18"/><rect x="356.4" y="272.66" width="227.4" height="1" fill="#4C8A96"/><rect x="356.4" y="273.66" width="227.4" height="1" fill="#fff" opacity="0.18"/><rect x="356.4" y="280.78" width="227.4" height="1" fill="#4C8A96"/><rect x="356.4" y="281.78" width="227.4" height="1" fill="#fff" opacity="0.18"/><rect x="356.4" y="288.9" width="227.4" height="1" fill="#4C8A96"/><rect x="356.4" y="289.9" width="227.4" height="1" fill="#fff" opacity="0.18"/><rect x="356.4" y="297.02" width="227.4" height="1" fill="#4C8A96"/><rect x="356.4" y="298.02" width="227.4" height="1" fill="#fff" opacity="0.18"/><rect x="356.4" y="305.14" width="227.4" height="1" fill="#4C8A96"/><rect x="356.4" y="306.14" width="227.4" height="1" fill="#fff" opacity="0.18"/><rect x="356.4" y="313.26" width="227.4" height="1" fill="#4C8A96"/><rect x="356.4" y="314.26" width="227.4" height="1" fill="#fff" opacity="0.18"/></g>
<g clip-path="url(#c7)">
<rect x="349.2" y="69.42" width="256" height="3" fill="url(#shT)"/>
<rect x="348.7" y="72.42" width="2" height="321.2" fill="url(#shL)"/>
<rect x="349.7" y="88.27" width="16.9" height="1.7" fill="rgba(20,25,40,0.16)"/><circle cx="366.6" cy="89.12" r="3.2" fill="rgba(20,25,40,0.16)"/><rect x="349.7" y="116.89" width="16.9" height="1.7" fill="rgba(20,25,40,0.16)"/><circle cx="366.6" cy="117.74" r="3.2" fill="rgba(20,25,40,0.16)"/><rect x="349.7" y="145.51" width="16.9" height="1.7" fill="rgba(20,25,40,0.16)"/><circle cx="366.6" cy="146.36" r="3.2" fill="rgba(20,25,40,0.16)"/><rect x="349.7" y="174.13" width="16.9" height="1.7" fill="rgba(20,25,40,0.16)"/><circle cx="366.6" cy="174.98" r="3.2" fill="rgba(20,25,40,0.16)"/><rect x="349.7" y="202.75" width="16.9" height="1.7" fill="rgba(20,25,40,0.16)"/><circle cx="366.6" cy="203.6" r="3.2" fill="rgba(20,25,40,0.16)"/><rect x="349.7" y="231.37" width="16.9" height="1.7" fill="rgba(20,25,40,0.16)"/><circle cx="366.6" cy="232.22" r="3.2" fill="rgba(20,25,40,0.16)"/><rect x="349.7" y="259.99" width="16.9" height="1.7" fill="rgba(20,25,40,0.16)"/><circle cx="366.6" cy="260.84" r="3.2" fill="rgba(20,25,40,0.16)"/><rect x="349.7" y="288.61" width="16.9" height="1.7" fill="rgba(20,25,40,0.16)"/><circle cx="366.6" cy="289.46" r="3.2" fill="rgba(20,25,40,0.16)"/><rect x="349.7" y="317.23" width="16.9" height="1.7" fill="rgba(20,25,40,0.16)"/><circle cx="366.6" cy="318.08" r="3.2" fill="rgba(20,25,40,0.16)"/>
<rect x="349.7" y="88.92" width="14.9" height="0.9" fill="rgba(30,15,10,0.45)"/>
<path d="M363.9 88.72 a2.7 2.7 0 0 1 5.4 0" fill="none" stroke="rgba(30,15,10,0.35)" stroke-width="0.9"/>
<rect x="349.7" y="117.54" width="14.9" height="0.9" fill="rgba(30,15,10,0.45)"/>
<path d="M363.9 117.34 a2.7 2.7 0 0 1 5.4 0" fill="none" stroke="rgba(30,15,10,0.35)" stroke-width="0.9"/>
<rect x="349.7" y="146.16" width="14.9" height="0.9" fill="rgba(30,15,10,0.45)"/>
<path d="M363.9 145.96 a2.7 2.7 0 0 1 5.4 0" fill="none" stroke="rgba(30,15,10,0.35)" stroke-width="0.9"/>
<rect x="349.7" y="174.78" width="14.9" height="0.9" fill="rgba(30,15,10,0.45)"/>
<path d="M363.9 174.58 a2.7 2.7 0 0 1 5.4 0" fill="none" stroke="rgba(30,15,10,0.35)" stroke-width="0.9"/>
<rect x="349.7" y="203.4" width="14.9" height="0.9" fill="rgba(30,15,10,0.45)"/>
<path d="M363.9 203.2 a2.7 2.7 0 0 1 5.4 0" fill="none" stroke="rgba(30,15,10,0.35)" stroke-width="0.9"/>
<rect x="349.7" y="232.02" width="14.9" height="0.9" fill="rgba(30,15,10,0.45)"/>
<path d="M363.9 231.82 a2.7 2.7 0 0 1 5.4 0" fill="none" stroke="rgba(30,15,10,0.35)" stroke-width="0.9"/>
<rect x="349.7" y="260.64" width="14.9" height="0.9" fill="rgba(30,15,10,0.45)"/>
<path d="M363.9 260.44 a2.7 2.7 0 0 1 5.4 0" fill="none" stroke="rgba(30,15,10,0.35)" stroke-width="0.9"/>
<rect x="349.7" y="289.26" width="14.9" height="0.9" fill="rgba(30,15,10,0.45)"/>
<path d="M363.9 289.06 a2.7 2.7 0 0 1 5.4 0" fill="none" stroke="rgba(30,15,10,0.35)" stroke-width="0.9"/>
<rect x="349.7" y="317.88" width="14.9" height="0.9" fill="rgba(30,15,10,0.45)"/>
<path d="M363.9 317.68 a2.7 2.7 0 0 1 5.4 0" fill="none" stroke="rgba(30,15,10,0.35)" stroke-width="0.9"/>
</g>
<g mask="url(#m7)"><rect x="350.7" y="72.42" width="256" height="321.2" fill="#DED0D8"/><rect x="350.7" y="72.42" width="8.4" height="321.2" fill="#EEE0E6"/><rect x="359.1" y="72.42" width="1.6" height="321.2" fill="#EEE0E6" opacity="0.5"/><rect x="350.7" y="72.42" width="256" height="1" fill="#fff" opacity="0.22"/><rect x="603.7" y="72.42" width="3" height="321.2" fill="#000" opacity="0.05"/><rect x="350.7" y="392.62" width="256" height="1" fill="#000" opacity="0.06"/><rect x="374.2" y="80.62" width="166.1" height="10.2" fill="none" stroke="#A8949E" stroke-width="0.9"/><rect x="544.1" y="80.62" width="58" height="10.2" fill="none" stroke="#A8949E" stroke-width="0.9"/><rect x="562.95" y="80.62" width="0.9" height="10.2" fill="#A8949E"/><rect x="582.25" y="80.62" width="0.9" height="10.2" fill="#A8949E"/><rect x="374.2" y="100.42" width="227.4" height="1" fill="#A8949E"/><rect x="374.2" y="101.42" width="227.4" height="1" fill="#fff" opacity="0.18"/><rect x="374.2" y="108.54" width="227.4" height="1" fill="#A8949E"/><rect x="374.2" y="109.54" width="227.4" height="1" fill="#fff" opacity="0.18"/><rect x="374.2" y="116.66" width="227.4" height="1" fill="#A8949E"/><rect x="374.2" y="117.66" width="227.4" height="1" fill="#fff" opacity="0.18"/><rect x="374.2" y="124.78" width="227.4" height="1" fill="#A8949E"/><rect x="374.2" y="125.78" width="227.4" height="1" fill="#fff" opacity="0.18"/><rect x="374.2" y="132.9" width="227.4" height="1" fill="#A8949E"/><rect x="374.2" y="133.9" width="227.4" height="1" fill="#fff" opacity="0.18"/><rect x="374.2" y="141.02" width="227.4" height="1" fill="#A8949E"/><rect x="374.2" y="142.02" width="227.4" height="1" fill="#fff" opacity="0.18"/><rect x="374.2" y="149.14" width="227.4" height="1" fill="#A8949E"/><rect x="374.2" y="150.14" width="227.4" height="1" fill="#fff" opacity="0.18"/><rect x="374.2" y="157.26" width="227.4" height="1" fill="#A8949E"/><rect x="374.2" y="158.26" width="227.4" height="1" fill="#fff" opacity="0.18"/><rect x="374.2" y="165.38" width="227.4" height="1" fill="#A8949E"/><rect x="374.2" y="166.38" width="227.4" height="1" fill="#fff" opacity="0.18"/><rect x="374.2" y="173.5" width="227.4" height="1" fill="#A8949E"/><rect x="374.2" y="174.5" width="227.4" height="1" fill="#fff" opacity="0.18"/><rect x="374.2" y="181.62" width="227.4" height="1" fill="#A8949E"/><rect x="374.2" y="182.62" width="227.4" height="1" fill="#fff" opacity="0.18"/><rect x="374.2" y="189.74" width="227.4" height="1" fill="#A8949E"/><rect x="374.2" y="190.74" width="227.4" height="1" fill="#fff" opacity="0.18"/><rect x="374.2" y="197.86" width="227.4" height="1" fill="#A8949E"/><rect x="374.2" y="198.86" width="227.4" height="1" fill="#fff" opacity="0.18"/><rect x="374.2" y="205.98" width="227.4" height="1" fill="#A8949E"/><rect x="374.2" y="206.98" width="227.4" height="1" fill="#fff" opacity="0.18"/><rect x="374.2" y="214.1" width="227.4" height="1" fill="#A8949E"/><rect x="374.2" y="215.1" width="227.4" height="1" fill="#fff" opacity="0.18"/><rect x="374.2" y="222.22" width="227.4" height="1" fill="#A8949E"/><rect x="374.2" y="223.22" width="227.4" height="1" fill="#fff" opacity="0.18"/><rect x="374.2" y="230.34" width="227.4" height="1" fill="#A8949E"/><rect x="374.2" y="231.34" width="227.4" height="1" fill="#fff" opacity="0.18"/><rect x="374.2" y="238.46" width="227.4" height="1" fill="#A8949E"/><rect x="374.2" y="239.46" width="227.4" height="1" fill="#fff" opacity="0.18"/><rect x="374.2" y="246.58" width="227.4" height="1" fill="#A8949E"/><rect x="374.2" y="247.58" width="227.4" height="1" fill="#fff" opacity="0.18"/><rect x="374.2" y="254.7" width="227.4" height="1" fill="#A8949E"/><rect x="374.2" y="255.7" width="227.4" height="1" fill="#fff" opacity="0.18"/><rect x="374.2" y="262.82" width="227.4" height="1" fill="#A8949E"/><rect x="374.2" y="263.82" width="227.4" height="1" fill="#fff" opacity="0.18"/><rect x="374.2" y="270.94" width="227.4" height="1" fill="#A8949E"/><rect x="374.2" y="271.94" width="227.4" height="1" fill="#fff" opacity="0.18"/><rect x="374.2" y="279.06" width="227.4" height="1" fill="#A8949E"/><rect x="374.2" y="280.06" width="227.4" height="1" fill="#fff" opacity="0.18"/><rect x="374.2" y="287.18" width="227.4" height="1" fill="#A8949E"/><rect x="374.2" y="288.18" width="227.4" height="1" fill="#fff" opacity="0.18"/><rect x="374.2" y="295.3" width="227.4" height="1" fill="#A8949E"/><rect x="374.2" y="296.3" width="227.4" height="1" fill="#fff" opacity="0.18"/><rect x="374.2" y="303.42" width="227.4" height="1" fill="#A8949E"/><rect x="374.2" y="304.42" width="227.4" height="1" fill="#fff" opacity="0.18"/><rect x="374.2" y="311.54" width="227.4" height="1" fill="#A8949E"/><rect x="374.2" y="312.54" width="227.4" height="1" fill="#fff" opacity="0.18"/><rect x="374.2" y="319.66" width="227.4" height="1" fill="#A8949E"/><rect x="374.2" y="320.66" width="227.4" height="1" fill="#fff" opacity="0.18"/><rect x="374.2" y="327.78" width="227.4" height="1" fill="#A8949E"/><rect x="374.2" y="328.78" width="227.4" height="1" fill="#fff" opacity="0.18"/><rect x="374.2" y="335.9" width="227.4" height="1" fill="#A8949E"/><rect x="374.2" y="336.9" width="227.4" height="1" fill="#fff" opacity="0.18"/><rect x="374.2" y="344.02" width="227.4" height="1" fill="#A8949E"/><rect x="374.2" y="345.02" width="227.4" height="1" fill="#fff" opacity="0.18"/><rect x="374.2" y="352.14" width="227.4" height="1" fill="#A8949E"/><rect x="374.2" y="353.14" width="227.4" height="1" fill="#fff" opacity="0.18"/><rect x="374.2" y="360.26" width="227.4" height="1" fill="#A8949E"/><rect x="374.2" y="361.26" width="227.4" height="1" fill="#fff" opacity="0.18"/><rect x="374.2" y="368.38" width="227.4" height="1" fill="#A8949E"/><rect x="374.2" y="369.38" width="227.4" height="1" fill="#fff" opacity="0.18"/><rect x="374.2" y="376.5" width="227.4" height="1" fill="#A8949E"/><rect x="374.2" y="377.5" width="227.4" height="1" fill="#fff" opacity="0.18"/><rect x="374.2" y="384.62" width="227.4" height="1" fill="#A8949E"/><rect x="374.2" y="385.62" width="227.4" height="1" fill="#fff" opacity="0.18"/></g>
<g clip-path="url(#c8)">
<rect x="367" y="140.78" width="256" height="3" fill="url(#shT)"/>
<rect x="366.5" y="143.78" width="2" height="321.2" fill="url(#shL)"/>
<rect x="367.5" y="159.63" width="16.9" height="1.7" fill="rgba(20,25,40,0.04)"/><circle cx="384.4" cy="160.48" r="3.2" fill="rgba(20,25,40,0.04)"/><rect x="367.5" y="188.25" width="16.9" height="1.7" fill="rgba(20,25,40,0.04)"/><circle cx="384.4" cy="189.1" r="3.2" fill="rgba(20,25,40,0.04)"/><rect x="367.5" y="216.87" width="16.9" height="1.7" fill="rgba(20,25,40,0.04)"/><circle cx="384.4" cy="217.72" r="3.2" fill="rgba(20,25,40,0.04)"/><rect x="367.5" y="245.49" width="16.9" height="1.7" fill="rgba(20,25,40,0.04)"/><circle cx="384.4" cy="246.34" r="3.2" fill="rgba(20,25,40,0.04)"/><rect x="367.5" y="274.11" width="16.9" height="1.7" fill="rgba(20,25,40,0.04)"/><circle cx="384.4" cy="274.96" r="3.2" fill="rgba(20,25,40,0.04)"/><rect x="367.5" y="302.73" width="16.9" height="1.7" fill="rgba(20,25,40,0.04)"/><circle cx="384.4" cy="303.58" r="3.2" fill="rgba(20,25,40,0.04)"/><rect x="367.5" y="331.35" width="16.9" height="1.7" fill="rgba(20,25,40,0.04)"/><circle cx="384.4" cy="332.2" r="3.2" fill="rgba(20,25,40,0.04)"/><rect x="367.5" y="359.97" width="16.9" height="1.7" fill="rgba(20,25,40,0.04)"/><circle cx="384.4" cy="360.82" r="3.2" fill="rgba(20,25,40,0.04)"/><rect x="367.5" y="388.59" width="16.9" height="1.7" fill="rgba(20,25,40,0.04)"/><circle cx="384.4" cy="389.44" r="3.2" fill="rgba(20,25,40,0.04)"/>
<rect x="367.5" y="160.28" width="14.9" height="0.9" fill="rgba(30,15,10,0.45)"/>
<path d="M381.7 160.08 a2.7 2.7 0 0 1 5.4 0" fill="none" stroke="rgba(30,15,10,0.35)" stroke-width="0.9"/>
<rect x="367.5" y="188.9" width="14.9" height="0.9" fill="rgba(30,15,10,0.45)"/>
<path d="M381.7 188.7 a2.7 2.7 0 0 1 5.4 0" fill="none" stroke="rgba(30,15,10,0.35)" stroke-width="0.9"/>
<rect x="367.5" y="217.52" width="14.9" height="0.9" fill="rgba(30,15,10,0.45)"/>
<path d="M381.7 217.32 a2.7 2.7 0 0 1 5.4 0" fill="none" stroke="rgba(30,15,10,0.35)" stroke-width="0.9"/>
<rect x="367.5" y="246.14" width="14.9" height="0.9" fill="rgba(30,15,10,0.45)"/>
<path d="M381.7 245.94 a2.7 2.7 0 0 1 5.4 0" fill="none" stroke="rgba(30,15,10,0.35)" stroke-width="0.9"/>
<rect x="367.5" y="274.76" width="14.9" height="0.9" fill="rgba(30,15,10,0.45)"/>
<path d="M381.7 274.56 a2.7 2.7 0 0 1 5.4 0" fill="none" stroke="rgba(30,15,10,0.35)" stroke-width="0.9"/>
<rect x="367.5" y="303.38" width="14.9" height="0.9" fill="rgba(30,15,10,0.45)"/>
<path d="M381.7 303.18 a2.7 2.7 0 0 1 5.4 0" fill="none" stroke="rgba(30,15,10,0.35)" stroke-width="0.9"/>
<rect x="367.5" y="332" width="14.9" height="0.9" fill="rgba(30,15,10,0.45)"/>
<path d="M381.7 331.8 a2.7 2.7 0 0 1 5.4 0" fill="none" stroke="rgba(30,15,10,0.35)" stroke-width="0.9"/>
<rect x="367.5" y="360.62" width="14.9" height="0.9" fill="rgba(30,15,10,0.45)"/>
<path d="M381.7 360.42 a2.7 2.7 0 0 1 5.4 0" fill="none" stroke="rgba(30,15,10,0.35)" stroke-width="0.9"/>
<rect x="367.5" y="389.24" width="14.9" height="0.9" fill="rgba(30,15,10,0.45)"/>
<path d="M381.7 389.04 a2.7 2.7 0 0 1 5.4 0" fill="none" stroke="rgba(30,15,10,0.35)" stroke-width="0.9"/>
</g>
<g mask="url(#m8)"><rect x="368.5" y="143.78" width="256" height="321.2" fill="#C7AFB6"/><rect x="368.5" y="143.78" width="8.4" height="321.2" fill="#D4C0C7"/><rect x="376.9" y="143.78" width="1.6" height="321.2" fill="#D4C0C7" opacity="0.5"/><rect x="368.5" y="143.78" width="256" height="1" fill="#fff" opacity="0.22"/><rect x="621.5" y="143.78" width="3" height="321.2" fill="#000" opacity="0.05"/><rect x="368.5" y="463.98" width="256" height="1" fill="#000" opacity="0.06"/><rect x="392" y="151.98" width="166.1" height="10.2" fill="none" stroke="#8A7078" stroke-width="0.9"/><rect x="561.9" y="151.98" width="58" height="10.2" fill="none" stroke="#8A7078" stroke-width="0.9"/><rect x="580.75" y="151.98" width="0.9" height="10.2" fill="#8A7078"/><rect x="600.05" y="151.98" width="0.9" height="10.2" fill="#8A7078"/><rect x="392" y="171.78" width="227.4" height="1" fill="#8A7078"/><rect x="392" y="172.78" width="227.4" height="1" fill="#fff" opacity="0.18"/><rect x="392" y="179.9" width="227.4" height="1" fill="#8A7078"/><rect x="392" y="180.9" width="227.4" height="1" fill="#fff" opacity="0.18"/><rect x="392" y="188.02" width="227.4" height="1" fill="#8A7078"/><rect x="392" y="189.02" width="227.4" height="1" fill="#fff" opacity="0.18"/><rect x="392" y="196.14" width="227.4" height="1" fill="#8A7078"/><rect x="392" y="197.14" width="227.4" height="1" fill="#fff" opacity="0.18"/><rect x="392" y="204.26" width="227.4" height="1" fill="#8A7078"/><rect x="392" y="205.26" width="227.4" height="1" fill="#fff" opacity="0.18"/><rect x="392" y="212.38" width="227.4" height="1" fill="#8A7078"/><rect x="392" y="213.38" width="227.4" height="1" fill="#fff" opacity="0.18"/><rect x="392" y="220.5" width="227.4" height="1" fill="#8A7078"/><rect x="392" y="221.5" width="227.4" height="1" fill="#fff" opacity="0.18"/><rect x="392" y="228.62" width="227.4" height="1" fill="#8A7078"/><rect x="392" y="229.62" width="227.4" height="1" fill="#fff" opacity="0.18"/><rect x="392" y="236.74" width="227.4" height="1" fill="#8A7078"/><rect x="392" y="237.74" width="227.4" height="1" fill="#fff" opacity="0.18"/><rect x="392" y="244.86" width="227.4" height="1" fill="#8A7078"/><rect x="392" y="245.86" width="227.4" height="1" fill="#fff" opacity="0.18"/><rect x="392" y="252.98" width="227.4" height="1" fill="#8A7078"/><rect x="392" y="253.98" width="227.4" height="1" fill="#fff" opacity="0.18"/><rect x="392" y="261.1" width="227.4" height="1" fill="#8A7078"/><rect x="392" y="262.1" width="227.4" height="1" fill="#fff" opacity="0.18"/><rect x="392" y="269.22" width="227.4" height="1" fill="#8A7078"/><rect x="392" y="270.22" width="227.4" height="1" fill="#fff" opacity="0.18"/><rect x="392" y="277.34" width="227.4" height="1" fill="#8A7078"/><rect x="392" y="278.34" width="227.4" height="1" fill="#fff" opacity="0.18"/><rect x="392" y="285.46" width="227.4" height="1" fill="#8A7078"/><rect x="392" y="286.46" width="227.4" height="1" fill="#fff" opacity="0.18"/><rect x="392" y="293.58" width="227.4" height="1" fill="#8A7078"/><rect x="392" y="294.58" width="227.4" height="1" fill="#fff" opacity="0.18"/><rect x="392" y="301.7" width="227.4" height="1" fill="#8A7078"/><rect x="392" y="302.7" width="227.4" height="1" fill="#fff" opacity="0.18"/><rect x="392" y="309.82" width="227.4" height="1" fill="#8A7078"/><rect x="392" y="310.82" width="227.4" height="1" fill="#fff" opacity="0.18"/><rect x="392" y="317.94" width="227.4" height="1" fill="#8A7078"/><rect x="392" y="318.94" width="227.4" height="1" fill="#fff" opacity="0.18"/><rect x="392" y="326.06" width="227.4" height="1" fill="#8A7078"/><rect x="392" y="327.06" width="227.4" height="1" fill="#fff" opacity="0.18"/><rect x="392" y="334.18" width="227.4" height="1" fill="#8A7078"/><rect x="392" y="335.18" width="227.4" height="1" fill="#fff" opacity="0.18"/><rect x="392" y="342.3" width="227.4" height="1" fill="#8A7078"/><rect x="392" y="343.3" width="227.4" height="1" fill="#fff" opacity="0.18"/><rect x="392" y="350.42" width="227.4" height="1" fill="#8A7078"/><rect x="392" y="351.42" width="227.4" height="1" fill="#fff" opacity="0.18"/><rect x="392" y="358.54" width="227.4" height="1" fill="#8A7078"/><rect x="392" y="359.54" width="227.4" height="1" fill="#fff" opacity="0.18"/><rect x="392" y="366.66" width="227.4" height="1" fill="#8A7078"/><rect x="392" y="367.66" width="227.4" height="1" fill="#fff" opacity="0.18"/><rect x="392" y="374.78" width="227.4" height="1" fill="#8A7078"/><rect x="392" y="375.78" width="227.4" height="1" fill="#fff" opacity="0.18"/><rect x="392" y="382.9" width="227.4" height="1" fill="#8A7078"/><rect x="392" y="383.9" width="227.4" height="1" fill="#fff" opacity="0.18"/><rect x="392" y="391.02" width="227.4" height="1" fill="#8A7078"/><rect x="392" y="392.02" width="227.4" height="1" fill="#fff" opacity="0.18"/><rect x="392" y="399.14" width="227.4" height="1" fill="#8A7078"/><rect x="392" y="400.14" width="227.4" height="1" fill="#fff" opacity="0.18"/><rect x="392" y="407.26" width="227.4" height="1" fill="#8A7078"/><rect x="392" y="408.26" width="227.4" height="1" fill="#fff" opacity="0.18"/><rect x="392" y="415.38" width="227.4" height="1" fill="#8A7078"/><rect x="392" y="416.38" width="227.4" height="1" fill="#fff" opacity="0.18"/><rect x="392" y="423.5" width="227.4" height="1" fill="#8A7078"/><rect x="392" y="424.5" width="227.4" height="1" fill="#fff" opacity="0.18"/><rect x="392" y="431.62" width="227.4" height="1" fill="#8A7078"/><rect x="392" y="432.62" width="227.4" height="1" fill="#fff" opacity="0.18"/><rect x="392" y="439.74" width="227.4" height="1" fill="#8A7078"/><rect x="392" y="440.74" width="227.4" height="1" fill="#fff" opacity="0.18"/><rect x="392" y="447.86" width="227.4" height="1" fill="#8A7078"/><rect x="392" y="448.86" width="227.4" height="1" fill="#fff" opacity="0.18"/><rect x="392" y="455.98" width="227.4" height="1" fill="#8A7078"/><rect x="392" y="456.98" width="227.4" height="1" fill="#fff" opacity="0.18"/></g>
<g clip-path="url(#c9)">
<rect x="384.8" y="212.14" width="256" height="3" fill="url(#shT)"/>
<rect x="384.3" y="215.14" width="2" height="321.2" fill="url(#shL)"/>
<rect x="385.3" y="230.99" width="16.9" height="1.7" fill="rgba(20,25,40,0.16)"/><circle cx="402.2" cy="231.84" r="3.2" fill="rgba(20,25,40,0.16)"/><rect x="385.3" y="259.61" width="16.9" height="1.7" fill="rgba(20,25,40,0.16)"/><circle cx="402.2" cy="260.46" r="3.2" fill="rgba(20,25,40,0.16)"/><rect x="385.3" y="288.23" width="16.9" height="1.7" fill="rgba(20,25,40,0.16)"/><circle cx="402.2" cy="289.08" r="3.2" fill="rgba(20,25,40,0.16)"/><rect x="385.3" y="316.85" width="16.9" height="1.7" fill="rgba(20,25,40,0.16)"/><circle cx="402.2" cy="317.7" r="3.2" fill="rgba(20,25,40,0.16)"/><rect x="385.3" y="345.47" width="16.9" height="1.7" fill="rgba(20,25,40,0.16)"/><circle cx="402.2" cy="346.32" r="3.2" fill="rgba(20,25,40,0.16)"/><rect x="385.3" y="374.09" width="16.9" height="1.7" fill="rgba(20,25,40,0.16)"/><circle cx="402.2" cy="374.94" r="3.2" fill="rgba(20,25,40,0.16)"/><rect x="385.3" y="402.71" width="16.9" height="1.7" fill="rgba(20,25,40,0.16)"/><circle cx="402.2" cy="403.56" r="3.2" fill="rgba(20,25,40,0.16)"/><rect x="385.3" y="431.33" width="16.9" height="1.7" fill="rgba(20,25,40,0.16)"/><circle cx="402.2" cy="432.18" r="3.2" fill="rgba(20,25,40,0.16)"/><rect x="385.3" y="459.95" width="16.9" height="1.7" fill="rgba(20,25,40,0.16)"/><circle cx="402.2" cy="460.8" r="3.2" fill="rgba(20,25,40,0.16)"/>
<rect x="385.3" y="231.64" width="14.9" height="0.9" fill="rgba(30,15,10,0.45)"/>
<path d="M399.5 231.44 a2.7 2.7 0 0 1 5.4 0" fill="none" stroke="rgba(30,15,10,0.35)" stroke-width="0.9"/>
<rect x="385.3" y="260.26" width="14.9" height="0.9" fill="rgba(30,15,10,0.45)"/>
<path d="M399.5 260.06 a2.7 2.7 0 0 1 5.4 0" fill="none" stroke="rgba(30,15,10,0.35)" stroke-width="0.9"/>
<rect x="385.3" y="288.88" width="14.9" height="0.9" fill="rgba(30,15,10,0.45)"/>
<path d="M399.5 288.68 a2.7 2.7 0 0 1 5.4 0" fill="none" stroke="rgba(30,15,10,0.35)" stroke-width="0.9"/>
<rect x="385.3" y="317.5" width="14.9" height="0.9" fill="rgba(30,15,10,0.45)"/>
<path d="M399.5 317.3 a2.7 2.7 0 0 1 5.4 0" fill="none" stroke="rgba(30,15,10,0.35)" stroke-width="0.9"/>
<rect x="385.3" y="346.12" width="14.9" height="0.9" fill="rgba(30,15,10,0.45)"/>
<path d="M399.5 345.92 a2.7 2.7 0 0 1 5.4 0" fill="none" stroke="rgba(30,15,10,0.35)" stroke-width="0.9"/>
<rect x="385.3" y="374.74" width="14.9" height="0.9" fill="rgba(30,15,10,0.45)"/>
<path d="M399.5 374.54 a2.7 2.7 0 0 1 5.4 0" fill="none" stroke="rgba(30,15,10,0.35)" stroke-width="0.9"/>
<rect x="385.3" y="403.36" width="14.9" height="0.9" fill="rgba(30,15,10,0.45)"/>
<path d="M399.5 403.16 a2.7 2.7 0 0 1 5.4 0" fill="none" stroke="rgba(30,15,10,0.35)" stroke-width="0.9"/>
<rect x="385.3" y="431.98" width="14.9" height="0.9" fill="rgba(30,15,10,0.45)"/>
<path d="M399.5 431.78 a2.7 2.7 0 0 1 5.4 0" fill="none" stroke="rgba(30,15,10,0.35)" stroke-width="0.9"/>
<rect x="385.3" y="460.6" width="14.9" height="0.9" fill="rgba(30,15,10,0.45)"/>
<path d="M399.5 460.4 a2.7 2.7 0 0 1 5.4 0" fill="none" stroke="rgba(30,15,10,0.35)" stroke-width="0.9"/>
</g>
<g mask="url(#m9)"><rect x="386.3" y="215.14" width="256" height="321.2" fill="#DBA8DC"/><rect x="386.3" y="215.14" width="8.4" height="321.2" fill="#E9C6EA"/><rect x="394.7" y="215.14" width="1.6" height="321.2" fill="#E9C6EA" opacity="0.5"/><rect x="386.3" y="215.14" width="256" height="1" fill="#fff" opacity="0.22"/><rect x="639.3" y="215.14" width="3" height="321.2" fill="#000" opacity="0.05"/><rect x="386.3" y="535.34" width="256" height="1" fill="#000" opacity="0.06"/><rect x="409.8" y="223.34" width="166.1" height="10.2" fill="none" stroke="#A070A4" stroke-width="0.9"/><rect x="579.7" y="223.34" width="58" height="10.2" fill="none" stroke="#A070A4" stroke-width="0.9"/><rect x="598.55" y="223.34" width="0.9" height="10.2" fill="#A070A4"/><rect x="617.85" y="223.34" width="0.9" height="10.2" fill="#A070A4"/><rect x="409.8" y="243.14" width="227.4" height="1" fill="#A070A4"/><rect x="409.8" y="244.14" width="227.4" height="1" fill="#fff" opacity="0.18"/><rect x="409.8" y="251.26" width="227.4" height="1" fill="#A070A4"/><rect x="409.8" y="252.26" width="227.4" height="1" fill="#fff" opacity="0.18"/><rect x="409.8" y="259.38" width="227.4" height="1" fill="#A070A4"/><rect x="409.8" y="260.38" width="227.4" height="1" fill="#fff" opacity="0.18"/><rect x="409.8" y="267.5" width="227.4" height="1" fill="#A070A4"/><rect x="409.8" y="268.5" width="227.4" height="1" fill="#fff" opacity="0.18"/><rect x="409.8" y="275.62" width="227.4" height="1" fill="#A070A4"/><rect x="409.8" y="276.62" width="227.4" height="1" fill="#fff" opacity="0.18"/><rect x="409.8" y="283.74" width="227.4" height="1" fill="#A070A4"/><rect x="409.8" y="284.74" width="227.4" height="1" fill="#fff" opacity="0.18"/><rect x="409.8" y="291.86" width="227.4" height="1" fill="#A070A4"/><rect x="409.8" y="292.86" width="227.4" height="1" fill="#fff" opacity="0.18"/><rect x="409.8" y="299.98" width="227.4" height="1" fill="#A070A4"/><rect x="409.8" y="300.98" width="227.4" height="1" fill="#fff" opacity="0.18"/><rect x="409.8" y="308.1" width="227.4" height="1" fill="#A070A4"/><rect x="409.8" y="309.1" width="227.4" height="1" fill="#fff" opacity="0.18"/><rect x="409.8" y="316.22" width="227.4" height="1" fill="#A070A4"/><rect x="409.8" y="317.22" width="227.4" height="1" fill="#fff" opacity="0.18"/><rect x="409.8" y="324.34" width="227.4" height="1" fill="#A070A4"/><rect x="409.8" y="325.34" width="227.4" height="1" fill="#fff" opacity="0.18"/><rect x="409.8" y="332.46" width="227.4" height="1" fill="#A070A4"/><rect x="409.8" y="333.46" width="227.4" height="1" fill="#fff" opacity="0.18"/><rect x="409.8" y="340.58" width="227.4" height="1" fill="#A070A4"/><rect x="409.8" y="341.58" width="227.4" height="1" fill="#fff" opacity="0.18"/><rect x="409.8" y="348.7" width="227.4" height="1" fill="#A070A4"/><rect x="409.8" y="349.7" width="227.4" height="1" fill="#fff" opacity="0.18"/><rect x="409.8" y="356.82" width="227.4" height="1" fill="#A070A4"/><rect x="409.8" y="357.82" width="227.4" height="1" fill="#fff" opacity="0.18"/><rect x="409.8" y="364.94" width="227.4" height="1" fill="#A070A4"/><rect x="409.8" y="365.94" width="227.4" height="1" fill="#fff" opacity="0.18"/><rect x="409.8" y="373.06" width="227.4" height="1" fill="#A070A4"/><rect x="409.8" y="374.06" width="227.4" height="1" fill="#fff" opacity="0.18"/><rect x="409.8" y="381.18" width="227.4" height="1" fill="#A070A4"/><rect x="409.8" y="382.18" width="227.4" height="1" fill="#fff" opacity="0.18"/><rect x="409.8" y="389.3" width="227.4" height="1" fill="#A070A4"/><rect x="409.8" y="390.3" width="227.4" height="1" fill="#fff" opacity="0.18"/><rect x="409.8" y="397.42" width="227.4" height="1" fill="#A070A4"/><rect x="409.8" y="398.42" width="227.4" height="1" fill="#fff" opacity="0.18"/><rect x="409.8" y="405.54" width="227.4" height="1" fill="#A070A4"/><rect x="409.8" y="406.54" width="227.4" height="1" fill="#fff" opacity="0.18"/><rect x="409.8" y="413.66" width="227.4" height="1" fill="#A070A4"/><rect x="409.8" y="414.66" width="227.4" height="1" fill="#fff" opacity="0.18"/><rect x="409.8" y="421.78" width="227.4" height="1" fill="#A070A4"/><rect x="409.8" y="422.78" width="227.4" height="1" fill="#fff" opacity="0.18"/><rect x="409.8" y="429.9" width="227.4" height="1" fill="#A070A4"/><rect x="409.8" y="430.9" width="227.4" height="1" fill="#fff" opacity="0.18"/><rect x="409.8" y="438.02" width="227.4" height="1" fill="#A070A4"/><rect x="409.8" y="439.02" width="227.4" height="1" fill="#fff" opacity="0.18"/><rect x="409.8" y="446.14" width="227.4" height="1" fill="#A070A4"/><rect x="409.8" y="447.14" width="227.4" height="1" fill="#fff" opacity="0.18"/><rect x="409.8" y="454.26" width="227.4" height="1" fill="#A070A4"/><rect x="409.8" y="455.26" width="227.4" height="1" fill="#fff" opacity="0.18"/><rect x="409.8" y="462.38" width="227.4" height="1" fill="#A070A4"/><rect x="409.8" y="463.38" width="227.4" height="1" fill="#fff" opacity="0.18"/><rect x="409.8" y="470.5" width="227.4" height="1" fill="#A070A4"/><rect x="409.8" y="471.5" width="227.4" height="1" fill="#fff" opacity="0.18"/><rect x="409.8" y="478.62" width="227.4" height="1" fill="#A070A4"/><rect x="409.8" y="479.62" width="227.4" height="1" fill="#fff" opacity="0.18"/><rect x="409.8" y="486.74" width="227.4" height="1" fill="#A070A4"/><rect x="409.8" y="487.74" width="227.4" height="1" fill="#fff" opacity="0.18"/><rect x="409.8" y="494.86" width="227.4" height="1" fill="#A070A4"/><rect x="409.8" y="495.86" width="227.4" height="1" fill="#fff" opacity="0.18"/><rect x="409.8" y="502.98" width="227.4" height="1" fill="#A070A4"/><rect x="409.8" y="503.98" width="227.4" height="1" fill="#fff" opacity="0.18"/><rect x="409.8" y="511.1" width="227.4" height="1" fill="#A070A4"/><rect x="409.8" y="512.1" width="227.4" height="1" fill="#fff" opacity="0.18"/><rect x="409.8" y="519.22" width="227.4" height="1" fill="#A070A4"/><rect x="409.8" y="520.22" width="227.4" height="1" fill="#fff" opacity="0.18"/><rect x="409.8" y="527.34" width="227.4" height="1" fill="#A070A4"/><rect x="409.8" y="528.34" width="227.4" height="1" fill="#fff" opacity="0.18"/></g>
<g clip-path="url(#c10)">
<rect x="402.6" y="283.5" width="256" height="3" fill="url(#shT)"/>
<rect x="402.1" y="286.5" width="2" height="321.2" fill="url(#shL)"/>
<rect x="403.1" y="302.35" width="16.9" height="1.7" fill="rgba(20,25,40,0.16)"/><circle cx="420" cy="303.2" r="3.2" fill="rgba(20,25,40,0.16)"/><rect x="403.1" y="330.97" width="16.9" height="1.7" fill="rgba(20,25,40,0.16)"/><circle cx="420" cy="331.82" r="3.2" fill="rgba(20,25,40,0.16)"/><rect x="403.1" y="359.59" width="16.9" height="1.7" fill="rgba(20,25,40,0.16)"/><circle cx="420" cy="360.44" r="3.2" fill="rgba(20,25,40,0.16)"/><rect x="403.1" y="388.21" width="16.9" height="1.7" fill="rgba(20,25,40,0.16)"/><circle cx="420" cy="389.06" r="3.2" fill="rgba(20,25,40,0.16)"/><rect x="403.1" y="416.83" width="16.9" height="1.7" fill="rgba(20,25,40,0.16)"/><circle cx="420" cy="417.68" r="3.2" fill="rgba(20,25,40,0.16)"/><rect x="403.1" y="445.45" width="16.9" height="1.7" fill="rgba(20,25,40,0.16)"/><circle cx="420" cy="446.3" r="3.2" fill="rgba(20,25,40,0.16)"/><rect x="403.1" y="474.07" width="16.9" height="1.7" fill="rgba(20,25,40,0.16)"/><circle cx="420" cy="474.92" r="3.2" fill="rgba(20,25,40,0.16)"/><rect x="403.1" y="502.69" width="16.9" height="1.7" fill="rgba(20,25,40,0.16)"/><circle cx="420" cy="503.54" r="3.2" fill="rgba(20,25,40,0.16)"/><rect x="403.1" y="531.31" width="16.9" height="1.7" fill="rgba(20,25,40,0.16)"/><circle cx="420" cy="532.16" r="3.2" fill="rgba(20,25,40,0.16)"/>
<rect x="403.1" y="303" width="14.9" height="0.9" fill="rgba(30,15,10,0.45)"/>
<path d="M417.3 302.8 a2.7 2.7 0 0 1 5.4 0" fill="none" stroke="rgba(30,15,10,0.35)" stroke-width="0.9"/>
<rect x="403.1" y="331.62" width="14.9" height="0.9" fill="rgba(30,15,10,0.45)"/>
<path d="M417.3 331.42 a2.7 2.7 0 0 1 5.4 0" fill="none" stroke="rgba(30,15,10,0.35)" stroke-width="0.9"/>
<rect x="403.1" y="360.24" width="14.9" height="0.9" fill="rgba(30,15,10,0.45)"/>
<path d="M417.3 360.04 a2.7 2.7 0 0 1 5.4 0" fill="none" stroke="rgba(30,15,10,0.35)" stroke-width="0.9"/>
<rect x="403.1" y="388.86" width="14.9" height="0.9" fill="rgba(30,15,10,0.45)"/>
<path d="M417.3 388.66 a2.7 2.7 0 0 1 5.4 0" fill="none" stroke="rgba(30,15,10,0.35)" stroke-width="0.9"/>
<rect x="403.1" y="417.48" width="14.9" height="0.9" fill="rgba(30,15,10,0.45)"/>
<path d="M417.3 417.28 a2.7 2.7 0 0 1 5.4 0" fill="none" stroke="rgba(30,15,10,0.35)" stroke-width="0.9"/>
<rect x="403.1" y="446.1" width="14.9" height="0.9" fill="rgba(30,15,10,0.45)"/>
<path d="M417.3 445.9 a2.7 2.7 0 0 1 5.4 0" fill="none" stroke="rgba(30,15,10,0.35)" stroke-width="0.9"/>
<rect x="403.1" y="474.72" width="14.9" height="0.9" fill="rgba(30,15,10,0.45)"/>
<path d="M417.3 474.52 a2.7 2.7 0 0 1 5.4 0" fill="none" stroke="rgba(30,15,10,0.35)" stroke-width="0.9"/>
<rect x="403.1" y="503.34" width="14.9" height="0.9" fill="rgba(30,15,10,0.45)"/>
<path d="M417.3 503.14 a2.7 2.7 0 0 1 5.4 0" fill="none" stroke="rgba(30,15,10,0.35)" stroke-width="0.9"/>
<rect x="403.1" y="531.96" width="14.9" height="0.9" fill="rgba(30,15,10,0.45)"/>
<path d="M417.3 531.76 a2.7 2.7 0 0 1 5.4 0" fill="none" stroke="rgba(30,15,10,0.35)" stroke-width="0.9"/>
</g>
<g mask="url(#m10)"><rect x="404.1" y="286.5" width="256" height="321.2" fill="#5C88B5"/><rect x="404.1" y="286.5" width="8.4" height="321.2" fill="#7AA6CE"/><rect x="412.5" y="286.5" width="1.6" height="321.2" fill="#7AA6CE" opacity="0.5"/><rect x="404.1" y="286.5" width="256" height="1" fill="#fff" opacity="0.22"/><rect x="657.1" y="286.5" width="3" height="321.2" fill="#000" opacity="0.05"/><rect x="404.1" y="606.7" width="256" height="1" fill="#000" opacity="0.06"/><rect x="427.6" y="294.7" width="166.1" height="10.2" fill="none" stroke="#2E5078" stroke-width="0.9"/><rect x="597.5" y="294.7" width="58" height="10.2" fill="none" stroke="#2E5078" stroke-width="0.9"/><rect x="616.35" y="294.7" width="0.9" height="10.2" fill="#2E5078"/><rect x="635.65" y="294.7" width="0.9" height="10.2" fill="#2E5078"/><rect x="427.6" y="314.5" width="227.4" height="1" fill="#2E5078"/><rect x="427.6" y="315.5" width="227.4" height="1" fill="#fff" opacity="0.18"/><rect x="427.6" y="322.62" width="227.4" height="1" fill="#2E5078"/><rect x="427.6" y="323.62" width="227.4" height="1" fill="#fff" opacity="0.18"/><rect x="427.6" y="330.74" width="227.4" height="1" fill="#2E5078"/><rect x="427.6" y="331.74" width="227.4" height="1" fill="#fff" opacity="0.18"/><rect x="427.6" y="338.86" width="227.4" height="1" fill="#2E5078"/><rect x="427.6" y="339.86" width="227.4" height="1" fill="#fff" opacity="0.18"/><rect x="427.6" y="346.98" width="227.4" height="1" fill="#2E5078"/><rect x="427.6" y="347.98" width="227.4" height="1" fill="#fff" opacity="0.18"/><rect x="427.6" y="355.1" width="227.4" height="1" fill="#2E5078"/><rect x="427.6" y="356.1" width="227.4" height="1" fill="#fff" opacity="0.18"/><rect x="427.6" y="363.22" width="227.4" height="1" fill="#2E5078"/><rect x="427.6" y="364.22" width="227.4" height="1" fill="#fff" opacity="0.18"/><rect x="427.6" y="371.34" width="227.4" height="1" fill="#2E5078"/><rect x="427.6" y="372.34" width="227.4" height="1" fill="#fff" opacity="0.18"/><rect x="427.6" y="379.46" width="227.4" height="1" fill="#2E5078"/><rect x="427.6" y="380.46" width="227.4" height="1" fill="#fff" opacity="0.18"/><rect x="427.6" y="387.58" width="227.4" height="1" fill="#2E5078"/><rect x="427.6" y="388.58" width="227.4" height="1" fill="#fff" opacity="0.18"/><rect x="427.6" y="395.7" width="227.4" height="1" fill="#2E5078"/><rect x="427.6" y="396.7" width="227.4" height="1" fill="#fff" opacity="0.18"/><rect x="427.6" y="403.82" width="227.4" height="1" fill="#2E5078"/><rect x="427.6" y="404.82" width="227.4" height="1" fill="#fff" opacity="0.18"/><rect x="427.6" y="411.94" width="227.4" height="1" fill="#2E5078"/><rect x="427.6" y="412.94" width="227.4" height="1" fill="#fff" opacity="0.18"/><rect x="427.6" y="420.06" width="227.4" height="1" fill="#2E5078"/><rect x="427.6" y="421.06" width="227.4" height="1" fill="#fff" opacity="0.18"/><rect x="427.6" y="428.18" width="227.4" height="1" fill="#2E5078"/><rect x="427.6" y="429.18" width="227.4" height="1" fill="#fff" opacity="0.18"/><rect x="427.6" y="436.3" width="227.4" height="1" fill="#2E5078"/><rect x="427.6" y="437.3" width="227.4" height="1" fill="#fff" opacity="0.18"/><rect x="427.6" y="444.42" width="227.4" height="1" fill="#2E5078"/><rect x="427.6" y="445.42" width="227.4" height="1" fill="#fff" opacity="0.18"/><rect x="427.6" y="452.54" width="227.4" height="1" fill="#2E5078"/><rect x="427.6" y="453.54" width="227.4" height="1" fill="#fff" opacity="0.18"/><rect x="427.6" y="460.66" width="227.4" height="1" fill="#2E5078"/><rect x="427.6" y="461.66" width="227.4" height="1" fill="#fff" opacity="0.18"/><rect x="427.6" y="468.78" width="227.4" height="1" fill="#2E5078"/><rect x="427.6" y="469.78" width="227.4" height="1" fill="#fff" opacity="0.18"/><rect x="427.6" y="476.9" width="227.4" height="1" fill="#2E5078"/><rect x="427.6" y="477.9" width="227.4" height="1" fill="#fff" opacity="0.18"/><rect x="427.6" y="485.02" width="227.4" height="1" fill="#2E5078"/><rect x="427.6" y="486.02" width="227.4" height="1" fill="#fff" opacity="0.18"/><rect x="427.6" y="493.14" width="227.4" height="1" fill="#2E5078"/><rect x="427.6" y="494.14" width="227.4" height="1" fill="#fff" opacity="0.18"/><rect x="427.6" y="501.26" width="227.4" height="1" fill="#2E5078"/><rect x="427.6" y="502.26" width="227.4" height="1" fill="#fff" opacity="0.18"/><rect x="427.6" y="509.38" width="227.4" height="1" fill="#2E5078"/><rect x="427.6" y="510.38" width="227.4" height="1" fill="#fff" opacity="0.18"/><rect x="427.6" y="517.5" width="227.4" height="1" fill="#2E5078"/><rect x="427.6" y="518.5" width="227.4" height="1" fill="#fff" opacity="0.18"/><rect x="427.6" y="525.62" width="227.4" height="1" fill="#2E5078"/><rect x="427.6" y="526.62" width="227.4" height="1" fill="#fff" opacity="0.18"/><rect x="427.6" y="533.74" width="227.4" height="1" fill="#2E5078"/><rect x="427.6" y="534.74" width="227.4" height="1" fill="#fff" opacity="0.18"/><rect x="427.6" y="541.86" width="227.4" height="1" fill="#2E5078"/><rect x="427.6" y="542.86" width="227.4" height="1" fill="#fff" opacity="0.18"/><rect x="427.6" y="549.98" width="227.4" height="1" fill="#2E5078"/><rect x="427.6" y="550.98" width="227.4" height="1" fill="#fff" opacity="0.18"/><rect x="427.6" y="558.1" width="227.4" height="1" fill="#2E5078"/><rect x="427.6" y="559.1" width="227.4" height="1" fill="#fff" opacity="0.18"/><rect x="427.6" y="566.22" width="227.4" height="1" fill="#2E5078"/><rect x="427.6" y="567.22" width="227.4" height="1" fill="#fff" opacity="0.18"/><rect x="427.6" y="574.34" width="227.4" height="1" fill="#2E5078"/><rect x="427.6" y="575.34" width="227.4" height="1" fill="#fff" opacity="0.18"/><rect x="427.6" y="582.46" width="227.4" height="1" fill="#2E5078"/><rect x="427.6" y="583.46" width="227.4" height="1" fill="#fff" opacity="0.18"/><rect x="427.6" y="590.58" width="227.4" height="1" fill="#2E5078"/><rect x="427.6" y="591.58" width="227.4" height="1" fill="#fff" opacity="0.18"/><rect x="427.6" y="598.7" width="227.4" height="1" fill="#2E5078"/><rect x="427.6" y="599.7" width="227.4" height="1" fill="#fff" opacity="0.18"/></g>
<g clip-path="url(#c11)">
<rect x="420.4" y="354.86" width="256" height="3" fill="url(#shT)"/>
<rect x="419.9" y="357.86" width="2" height="321.2" fill="url(#shL)"/>
<rect x="420.9" y="373.71" width="16.9" height="1.7" fill="rgba(20,25,40,0.45)"/><circle cx="437.8" cy="374.56" r="3.2" fill="rgba(20,25,40,0.45)"/><rect x="420.9" y="402.33" width="16.9" height="1.7" fill="rgba(20,25,40,0.45)"/><circle cx="437.8" cy="403.18" r="3.2" fill="rgba(20,25,40,0.45)"/><rect x="420.9" y="430.95" width="16.9" height="1.7" fill="rgba(20,25,40,0.45)"/><circle cx="437.8" cy="431.8" r="3.2" fill="rgba(20,25,40,0.45)"/><rect x="420.9" y="459.57" width="16.9" height="1.7" fill="rgba(20,25,40,0.45)"/><circle cx="437.8" cy="460.42" r="3.2" fill="rgba(20,25,40,0.45)"/><rect x="420.9" y="488.19" width="16.9" height="1.7" fill="rgba(20,25,40,0.45)"/><circle cx="437.8" cy="489.04" r="3.2" fill="rgba(20,25,40,0.45)"/><rect x="420.9" y="516.81" width="16.9" height="1.7" fill="rgba(20,25,40,0.45)"/><circle cx="437.8" cy="517.66" r="3.2" fill="rgba(20,25,40,0.45)"/><rect x="420.9" y="545.43" width="16.9" height="1.7" fill="rgba(20,25,40,0.45)"/><circle cx="437.8" cy="546.28" r="3.2" fill="rgba(20,25,40,0.45)"/><rect x="420.9" y="574.05" width="16.9" height="1.7" fill="rgba(20,25,40,0.45)"/><circle cx="437.8" cy="574.9" r="3.2" fill="rgba(20,25,40,0.45)"/><rect x="420.9" y="602.67" width="16.9" height="1.7" fill="rgba(20,25,40,0.45)"/><circle cx="437.8" cy="603.52" r="3.2" fill="rgba(20,25,40,0.45)"/>
<rect x="420.9" y="374.36" width="14.9" height="0.9" fill="rgba(30,15,10,0.45)"/>
<path d="M435.1 374.16 a2.7 2.7 0 0 1 5.4 0" fill="none" stroke="rgba(30,15,10,0.35)" stroke-width="0.9"/>
<rect x="420.9" y="402.98" width="14.9" height="0.9" fill="rgba(30,15,10,0.45)"/>
<path d="M435.1 402.78 a2.7 2.7 0 0 1 5.4 0" fill="none" stroke="rgba(30,15,10,0.35)" stroke-width="0.9"/>
<rect x="420.9" y="431.6" width="14.9" height="0.9" fill="rgba(30,15,10,0.45)"/>
<path d="M435.1 431.4 a2.7 2.7 0 0 1 5.4 0" fill="none" stroke="rgba(30,15,10,0.35)" stroke-width="0.9"/>
<rect x="420.9" y="460.22" width="14.9" height="0.9" fill="rgba(30,15,10,0.45)"/>
<path d="M435.1 460.02 a2.7 2.7 0 0 1 5.4 0" fill="none" stroke="rgba(30,15,10,0.35)" stroke-width="0.9"/>
<rect x="420.9" y="488.84" width="14.9" height="0.9" fill="rgba(30,15,10,0.45)"/>
<path d="M435.1 488.64 a2.7 2.7 0 0 1 5.4 0" fill="none" stroke="rgba(30,15,10,0.35)" stroke-width="0.9"/>
<rect x="420.9" y="517.46" width="14.9" height="0.9" fill="rgba(30,15,10,0.45)"/>
<path d="M435.1 517.26 a2.7 2.7 0 0 1 5.4 0" fill="none" stroke="rgba(30,15,10,0.35)" stroke-width="0.9"/>
<rect x="420.9" y="546.08" width="14.9" height="0.9" fill="rgba(30,15,10,0.45)"/>
<path d="M435.1 545.88 a2.7 2.7 0 0 1 5.4 0" fill="none" stroke="rgba(30,15,10,0.35)" stroke-width="0.9"/>
<rect x="420.9" y="574.7" width="14.9" height="0.9" fill="rgba(30,15,10,0.45)"/>
<path d="M435.1 574.5 a2.7 2.7 0 0 1 5.4 0" fill="none" stroke="rgba(30,15,10,0.35)" stroke-width="0.9"/>
<rect x="420.9" y="603.32" width="14.9" height="0.9" fill="rgba(30,15,10,0.45)"/>
<path d="M435.1 603.12 a2.7 2.7 0 0 1 5.4 0" fill="none" stroke="rgba(30,15,10,0.35)" stroke-width="0.9"/>
</g>
<g mask="url(#m11)"><rect x="421.9" y="357.86" width="256" height="321.2" fill="#B9DEE1"/><rect x="421.9" y="357.86" width="8.4" height="321.2" fill="#CAE9EB"/><rect x="430.3" y="357.86" width="1.6" height="321.2" fill="#CAE9EB" opacity="0.5"/><rect x="421.9" y="357.86" width="256" height="1" fill="#fff" opacity="0.22"/><rect x="674.9" y="357.86" width="3" height="321.2" fill="#000" opacity="0.05"/><rect x="421.9" y="678.06" width="256" height="1" fill="#000" opacity="0.06"/><rect x="445.4" y="366.06" width="166.1" height="10.2" fill="none" stroke="#6A969A" stroke-width="0.9"/><rect x="615.3" y="366.06" width="58" height="10.2" fill="none" stroke="#6A969A" stroke-width="0.9"/><rect x="634.15" y="366.06" width="0.9" height="10.2" fill="#6A969A"/><rect x="653.45" y="366.06" width="0.9" height="10.2" fill="#6A969A"/><rect x="445.4" y="385.86" width="227.4" height="1" fill="#6A969A"/><rect x="445.4" y="386.86" width="227.4" height="1" fill="#fff" opacity="0.18"/><rect x="445.4" y="393.98" width="227.4" height="1" fill="#6A969A"/><rect x="445.4" y="394.98" width="227.4" height="1" fill="#fff" opacity="0.18"/><rect x="445.4" y="402.1" width="227.4" height="1" fill="#6A969A"/><rect x="445.4" y="403.1" width="227.4" height="1" fill="#fff" opacity="0.18"/><rect x="445.4" y="410.22" width="227.4" height="1" fill="#6A969A"/><rect x="445.4" y="411.22" width="227.4" height="1" fill="#fff" opacity="0.18"/><rect x="445.4" y="418.34" width="227.4" height="1" fill="#6A969A"/><rect x="445.4" y="419.34" width="227.4" height="1" fill="#fff" opacity="0.18"/><rect x="445.4" y="426.46" width="227.4" height="1" fill="#6A969A"/><rect x="445.4" y="427.46" width="227.4" height="1" fill="#fff" opacity="0.18"/><rect x="445.4" y="434.58" width="227.4" height="1" fill="#6A969A"/><rect x="445.4" y="435.58" width="227.4" height="1" fill="#fff" opacity="0.18"/><rect x="445.4" y="442.7" width="227.4" height="1" fill="#6A969A"/><rect x="445.4" y="443.7" width="227.4" height="1" fill="#fff" opacity="0.18"/><rect x="445.4" y="450.82" width="227.4" height="1" fill="#6A969A"/><rect x="445.4" y="451.82" width="227.4" height="1" fill="#fff" opacity="0.18"/><rect x="445.4" y="458.94" width="227.4" height="1" fill="#6A969A"/><rect x="445.4" y="459.94" width="227.4" height="1" fill="#fff" opacity="0.18"/><rect x="445.4" y="467.06" width="227.4" height="1" fill="#6A969A"/><rect x="445.4" y="468.06" width="227.4" height="1" fill="#fff" opacity="0.18"/><rect x="445.4" y="475.18" width="227.4" height="1" fill="#6A969A"/><rect x="445.4" y="476.18" width="227.4" height="1" fill="#fff" opacity="0.18"/><rect x="445.4" y="483.3" width="227.4" height="1" fill="#6A969A"/><rect x="445.4" y="484.3" width="227.4" height="1" fill="#fff" opacity="0.18"/><rect x="445.4" y="491.42" width="227.4" height="1" fill="#6A969A"/><rect x="445.4" y="492.42" width="227.4" height="1" fill="#fff" opacity="0.18"/><rect x="445.4" y="499.54" width="227.4" height="1" fill="#6A969A"/><rect x="445.4" y="500.54" width="227.4" height="1" fill="#fff" opacity="0.18"/><rect x="445.4" y="507.66" width="227.4" height="1" fill="#6A969A"/><rect x="445.4" y="508.66" width="227.4" height="1" fill="#fff" opacity="0.18"/><rect x="445.4" y="515.78" width="227.4" height="1" fill="#6A969A"/><rect x="445.4" y="516.78" width="227.4" height="1" fill="#fff" opacity="0.18"/><rect x="445.4" y="523.9" width="227.4" height="1" fill="#6A969A"/><rect x="445.4" y="524.9" width="227.4" height="1" fill="#fff" opacity="0.18"/><rect x="445.4" y="532.02" width="227.4" height="1" fill="#6A969A"/><rect x="445.4" y="533.02" width="227.4" height="1" fill="#fff" opacity="0.18"/><rect x="445.4" y="540.14" width="227.4" height="1" fill="#6A969A"/><rect x="445.4" y="541.14" width="227.4" height="1" fill="#fff" opacity="0.18"/><rect x="445.4" y="548.26" width="227.4" height="1" fill="#6A969A"/><rect x="445.4" y="549.26" width="227.4" height="1" fill="#fff" opacity="0.18"/><rect x="445.4" y="556.38" width="227.4" height="1" fill="#6A969A"/><rect x="445.4" y="557.38" width="227.4" height="1" fill="#fff" opacity="0.18"/><rect x="445.4" y="564.5" width="227.4" height="1" fill="#6A969A"/><rect x="445.4" y="565.5" width="227.4" height="1" fill="#fff" opacity="0.18"/><rect x="445.4" y="572.62" width="227.4" height="1" fill="#6A969A"/><rect x="445.4" y="573.62" width="227.4" height="1" fill="#fff" opacity="0.18"/><rect x="445.4" y="580.74" width="227.4" height="1" fill="#6A969A"/><rect x="445.4" y="581.74" width="227.4" height="1" fill="#fff" opacity="0.18"/><rect x="445.4" y="588.86" width="227.4" height="1" fill="#6A969A"/><rect x="445.4" y="589.86" width="227.4" height="1" fill="#fff" opacity="0.18"/><rect x="445.4" y="596.98" width="227.4" height="1" fill="#6A969A"/><rect x="445.4" y="597.98" width="227.4" height="1" fill="#fff" opacity="0.18"/><rect x="445.4" y="605.1" width="227.4" height="1" fill="#6A969A"/><rect x="445.4" y="606.1" width="227.4" height="1" fill="#fff" opacity="0.18"/><rect x="445.4" y="613.22" width="227.4" height="1" fill="#6A969A"/><rect x="445.4" y="614.22" width="227.4" height="1" fill="#fff" opacity="0.18"/><rect x="445.4" y="621.34" width="227.4" height="1" fill="#6A969A"/><rect x="445.4" y="622.34" width="227.4" height="1" fill="#fff" opacity="0.18"/><rect x="445.4" y="629.46" width="227.4" height="1" fill="#6A969A"/><rect x="445.4" y="630.46" width="227.4" height="1" fill="#fff" opacity="0.18"/><rect x="445.4" y="637.58" width="227.4" height="1" fill="#6A969A"/><rect x="445.4" y="638.58" width="227.4" height="1" fill="#fff" opacity="0.18"/><rect x="445.4" y="645.7" width="227.4" height="1" fill="#6A969A"/><rect x="445.4" y="646.7" width="227.4" height="1" fill="#fff" opacity="0.18"/><rect x="445.4" y="653.82" width="227.4" height="1" fill="#6A969A"/><rect x="445.4" y="654.82" width="227.4" height="1" fill="#fff" opacity="0.18"/><rect x="445.4" y="661.94" width="227.4" height="1" fill="#6A969A"/><rect x="445.4" y="662.94" width="227.4" height="1" fill="#fff" opacity="0.18"/><rect x="445.4" y="670.06" width="227.4" height="1" fill="#6A969A"/><rect x="445.4" y="671.06" width="227.4" height="1" fill="#fff" opacity="0.18"/></g>
</svg>
</body></html>
